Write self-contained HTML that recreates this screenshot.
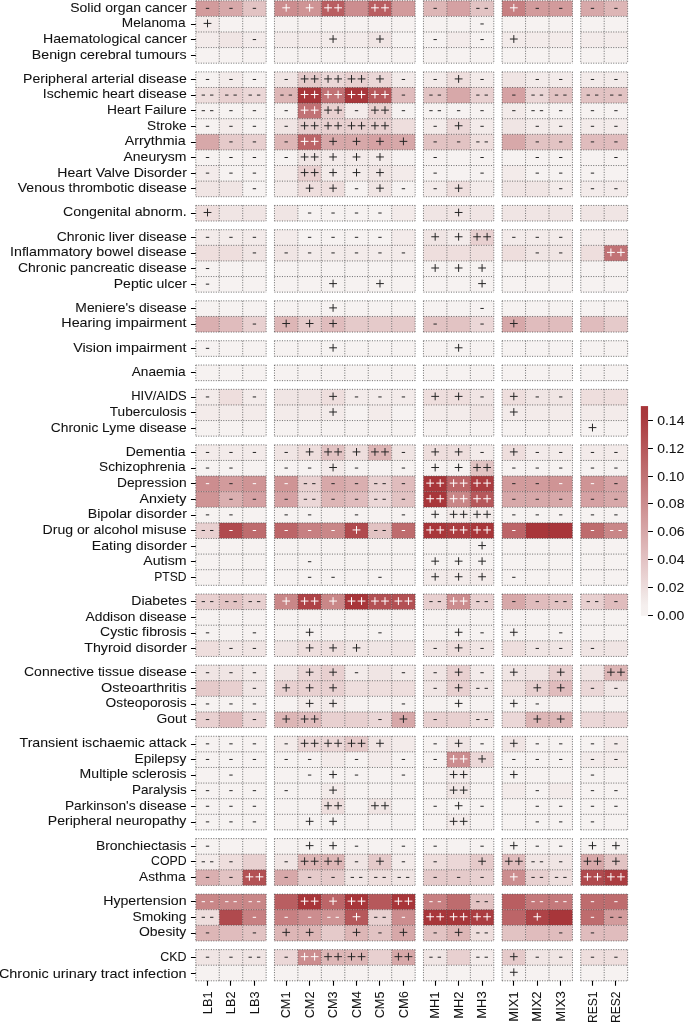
<!DOCTYPE html>
<html><head><meta charset="utf-8"><title>Heatmap</title>
<style>html,body{margin:0;padding:0;background:#fff;}body{width:685px;height:1023px;overflow:hidden;font-family:"Liberation Sans",sans-serif;}svg{display:block;will-change:transform;}</style>
</head><body>
<svg width="685" height="1023" viewBox="0 0 685 1023">
<rect width="685" height="1023" fill="#fff"/>
<g><rect x="195.80" y="0.75" width="23.45" height="15.61" fill="#d29b9c"/><rect x="219.25" y="0.75" width="23.45" height="15.61" fill="#d7a8a9"/><rect x="242.70" y="0.75" width="23.45" height="15.61" fill="#e2c3c3"/><rect x="274.45" y="0.75" width="23.45" height="15.61" fill="#cc8d8f"/><rect x="297.90" y="0.75" width="23.45" height="15.61" fill="#cf9495"/><rect x="321.35" y="0.75" width="23.45" height="15.61" fill="#b95e61"/><rect x="344.80" y="0.75" width="23.45" height="15.61" fill="#cc8d8f"/><rect x="368.25" y="0.75" width="23.45" height="15.61" fill="#b95e61"/><rect x="391.70" y="0.75" width="23.45" height="15.61" fill="#d29b9c"/><rect x="423.45" y="0.75" width="23.45" height="15.61" fill="#ddb6b6"/><rect x="446.90" y="0.75" width="23.45" height="15.61" fill="#d5a1a3"/><rect x="470.35" y="0.75" width="23.45" height="15.61" fill="#e2c3c3"/><rect x="502.10" y="0.75" width="23.45" height="15.61" fill="#c78082"/><rect x="525.55" y="0.75" width="23.45" height="15.61" fill="#d29b9c"/><rect x="549.00" y="0.75" width="23.45" height="15.61" fill="#d29b9c"/><rect x="580.75" y="0.75" width="23.45" height="15.61" fill="#d7a8a9"/><rect x="604.20" y="0.75" width="23.45" height="15.61" fill="#ddb6b6"/><rect x="195.80" y="16.36" width="23.45" height="15.61" fill="#f3ebea"/><rect x="219.25" y="16.36" width="23.45" height="15.61" fill="#f6f2f1"/><rect x="242.70" y="16.36" width="23.45" height="15.61" fill="#f6f2f1"/><rect x="274.45" y="16.36" width="23.45" height="15.61" fill="#f6f2f1"/><rect x="297.90" y="16.36" width="23.45" height="15.61" fill="#f6f2f1"/><rect x="321.35" y="16.36" width="23.45" height="15.61" fill="#f6f2f1"/><rect x="344.80" y="16.36" width="23.45" height="15.61" fill="#f6f2f1"/><rect x="368.25" y="16.36" width="23.45" height="15.61" fill="#f6f2f1"/><rect x="391.70" y="16.36" width="23.45" height="15.61" fill="#f6f2f1"/><rect x="423.45" y="16.36" width="23.45" height="15.61" fill="#f6f2f1"/><rect x="446.90" y="16.36" width="23.45" height="15.61" fill="#f6f2f1"/><rect x="470.35" y="16.36" width="23.45" height="15.61" fill="#f6f2f1"/><rect x="502.10" y="16.36" width="23.45" height="15.61" fill="#f6f2f1"/><rect x="525.55" y="16.36" width="23.45" height="15.61" fill="#f6f2f1"/><rect x="549.00" y="16.36" width="23.45" height="15.61" fill="#f6f2f1"/><rect x="580.75" y="16.36" width="23.45" height="15.61" fill="#f6f2f1"/><rect x="604.20" y="16.36" width="23.45" height="15.61" fill="#f6f2f1"/><rect x="195.80" y="31.97" width="23.45" height="15.61" fill="#f3ebea"/><rect x="219.25" y="31.97" width="23.45" height="15.61" fill="#f0e5e4"/><rect x="242.70" y="31.97" width="23.45" height="15.61" fill="#f3ebea"/><rect x="274.45" y="31.97" width="23.45" height="15.61" fill="#f3ebea"/><rect x="297.90" y="31.97" width="23.45" height="15.61" fill="#f3ebea"/><rect x="321.35" y="31.97" width="23.45" height="15.61" fill="#f3ebea"/><rect x="344.80" y="31.97" width="23.45" height="15.61" fill="#f3ebea"/><rect x="368.25" y="31.97" width="23.45" height="15.61" fill="#f0e5e4"/><rect x="391.70" y="31.97" width="23.45" height="15.61" fill="#f6f2f1"/><rect x="423.45" y="31.97" width="23.45" height="15.61" fill="#f6f2f1"/><rect x="446.90" y="31.97" width="23.45" height="15.61" fill="#f3ebea"/><rect x="470.35" y="31.97" width="23.45" height="15.61" fill="#f6f2f1"/><rect x="502.10" y="31.97" width="23.45" height="15.61" fill="#f3ebea"/><rect x="525.55" y="31.97" width="23.45" height="15.61" fill="#f3ebea"/><rect x="549.00" y="31.97" width="23.45" height="15.61" fill="#f3ebea"/><rect x="580.75" y="31.97" width="23.45" height="15.61" fill="#f3ebea"/><rect x="604.20" y="31.97" width="23.45" height="15.61" fill="#f3ebea"/><rect x="195.80" y="47.57" width="23.45" height="15.61" fill="#f6f2f1"/><rect x="219.25" y="47.57" width="23.45" height="15.61" fill="#f6f2f1"/><rect x="242.70" y="47.57" width="23.45" height="15.61" fill="#f6f2f1"/><rect x="274.45" y="47.57" width="23.45" height="15.61" fill="#f6f2f1"/><rect x="297.90" y="47.57" width="23.45" height="15.61" fill="#f6f2f1"/><rect x="321.35" y="47.57" width="23.45" height="15.61" fill="#f6f2f1"/><rect x="344.80" y="47.57" width="23.45" height="15.61" fill="#f6f2f1"/><rect x="368.25" y="47.57" width="23.45" height="15.61" fill="#f6f2f1"/><rect x="391.70" y="47.57" width="23.45" height="15.61" fill="#f6f2f1"/><rect x="423.45" y="47.57" width="23.45" height="15.61" fill="#f6f2f1"/><rect x="446.90" y="47.57" width="23.45" height="15.61" fill="#f6f2f1"/><rect x="470.35" y="47.57" width="23.45" height="15.61" fill="#f6f2f1"/><rect x="502.10" y="47.57" width="23.45" height="15.61" fill="#f6f2f1"/><rect x="525.55" y="47.57" width="23.45" height="15.61" fill="#f6f2f1"/><rect x="549.00" y="47.57" width="23.45" height="15.61" fill="#f6f2f1"/><rect x="580.75" y="47.57" width="23.45" height="15.61" fill="#f6f2f1"/><rect x="604.20" y="47.57" width="23.45" height="15.61" fill="#f6f2f1"/><rect x="195.80" y="71.87" width="23.45" height="15.61" fill="#f6f2f1"/><rect x="219.25" y="71.87" width="23.45" height="15.61" fill="#f3ebea"/><rect x="242.70" y="71.87" width="23.45" height="15.61" fill="#f6f2f1"/><rect x="274.45" y="71.87" width="23.45" height="15.61" fill="#f0e5e4"/><rect x="297.90" y="71.87" width="23.45" height="15.61" fill="#e5caca"/><rect x="321.35" y="71.87" width="23.45" height="15.61" fill="#ebd7d7"/><rect x="344.80" y="71.87" width="23.45" height="15.61" fill="#e8d0d0"/><rect x="368.25" y="71.87" width="23.45" height="15.61" fill="#ebd7d7"/><rect x="391.70" y="71.87" width="23.45" height="15.61" fill="#f3ebea"/><rect x="423.45" y="71.87" width="23.45" height="15.61" fill="#f3ebea"/><rect x="446.90" y="71.87" width="23.45" height="15.61" fill="#eededd"/><rect x="470.35" y="71.87" width="23.45" height="15.61" fill="#f3ebea"/><rect x="502.10" y="71.87" width="23.45" height="15.61" fill="#f0e5e4"/><rect x="525.55" y="71.87" width="23.45" height="15.61" fill="#f3ebea"/><rect x="549.00" y="71.87" width="23.45" height="15.61" fill="#f3ebea"/><rect x="580.75" y="71.87" width="23.45" height="15.61" fill="#f3ebea"/><rect x="604.20" y="71.87" width="23.45" height="15.61" fill="#f3ebea"/><rect x="195.80" y="87.48" width="23.45" height="15.61" fill="#eededd"/><rect x="219.25" y="87.48" width="23.45" height="15.61" fill="#e8d0d0"/><rect x="242.70" y="87.48" width="23.45" height="15.61" fill="#ebd7d7"/><rect x="274.45" y="87.48" width="23.45" height="15.61" fill="#ddb6b6"/><rect x="297.90" y="87.48" width="23.45" height="15.61" fill="#a8363a"/><rect x="321.35" y="87.48" width="23.45" height="15.61" fill="#c17275"/><rect x="344.80" y="87.48" width="23.45" height="15.61" fill="#a8363a"/><rect x="368.25" y="87.48" width="23.45" height="15.61" fill="#b6585b"/><rect x="391.70" y="87.48" width="23.45" height="15.61" fill="#e0bcbd"/><rect x="423.45" y="87.48" width="23.45" height="15.61" fill="#e2c3c3"/><rect x="446.90" y="87.48" width="23.45" height="15.61" fill="#d7a8a9"/><rect x="470.35" y="87.48" width="23.45" height="15.61" fill="#e8d0d0"/><rect x="502.10" y="87.48" width="23.45" height="15.61" fill="#d5a1a3"/><rect x="525.55" y="87.48" width="23.45" height="15.61" fill="#ebd7d7"/><rect x="549.00" y="87.48" width="23.45" height="15.61" fill="#e2c3c3"/><rect x="580.75" y="87.48" width="23.45" height="15.61" fill="#e2c3c3"/><rect x="604.20" y="87.48" width="23.45" height="15.61" fill="#e2c3c3"/><rect x="195.80" y="103.09" width="23.45" height="15.61" fill="#f6f2f1"/><rect x="219.25" y="103.09" width="23.45" height="15.61" fill="#f6f2f1"/><rect x="242.70" y="103.09" width="23.45" height="15.61" fill="#f6f2f1"/><rect x="274.45" y="103.09" width="23.45" height="15.61" fill="#f6f2f1"/><rect x="297.90" y="103.09" width="23.45" height="15.61" fill="#c17275"/><rect x="321.35" y="103.09" width="23.45" height="15.61" fill="#e8d0d0"/><rect x="344.80" y="103.09" width="23.45" height="15.61" fill="#f3ebea"/><rect x="368.25" y="103.09" width="23.45" height="15.61" fill="#e8d0d0"/><rect x="391.70" y="103.09" width="23.45" height="15.61" fill="#f6f2f1"/><rect x="423.45" y="103.09" width="23.45" height="15.61" fill="#f6f2f1"/><rect x="446.90" y="103.09" width="23.45" height="15.61" fill="#f6f2f1"/><rect x="470.35" y="103.09" width="23.45" height="15.61" fill="#f6f2f1"/><rect x="502.10" y="103.09" width="23.45" height="15.61" fill="#f3ebea"/><rect x="525.55" y="103.09" width="23.45" height="15.61" fill="#f6f2f1"/><rect x="549.00" y="103.09" width="23.45" height="15.61" fill="#f6f2f1"/><rect x="580.75" y="103.09" width="23.45" height="15.61" fill="#f6f2f1"/><rect x="604.20" y="103.09" width="23.45" height="15.61" fill="#f6f2f1"/><rect x="195.80" y="118.69" width="23.45" height="15.61" fill="#f6f2f1"/><rect x="219.25" y="118.69" width="23.45" height="15.61" fill="#f3ebea"/><rect x="242.70" y="118.69" width="23.45" height="15.61" fill="#f6f2f1"/><rect x="274.45" y="118.69" width="23.45" height="15.61" fill="#f0e5e4"/><rect x="297.90" y="118.69" width="23.45" height="15.61" fill="#e8d0d0"/><rect x="321.35" y="118.69" width="23.45" height="15.61" fill="#e8d0d0"/><rect x="344.80" y="118.69" width="23.45" height="15.61" fill="#e8d0d0"/><rect x="368.25" y="118.69" width="23.45" height="15.61" fill="#e8d0d0"/><rect x="391.70" y="118.69" width="23.45" height="15.61" fill="#eededd"/><rect x="423.45" y="118.69" width="23.45" height="15.61" fill="#f3ebea"/><rect x="446.90" y="118.69" width="23.45" height="15.61" fill="#ebd7d7"/><rect x="470.35" y="118.69" width="23.45" height="15.61" fill="#f3ebea"/><rect x="502.10" y="118.69" width="23.45" height="15.61" fill="#f0e5e4"/><rect x="525.55" y="118.69" width="23.45" height="15.61" fill="#f3ebea"/><rect x="549.00" y="118.69" width="23.45" height="15.61" fill="#f3ebea"/><rect x="580.75" y="118.69" width="23.45" height="15.61" fill="#f3ebea"/><rect x="604.20" y="118.69" width="23.45" height="15.61" fill="#f3ebea"/><rect x="195.80" y="134.30" width="23.45" height="15.61" fill="#d7a8a9"/><rect x="219.25" y="134.30" width="23.45" height="15.61" fill="#e5caca"/><rect x="242.70" y="134.30" width="23.45" height="15.61" fill="#e8d0d0"/><rect x="274.45" y="134.30" width="23.45" height="15.61" fill="#ddb6b6"/><rect x="297.90" y="134.30" width="23.45" height="15.61" fill="#bc6568"/><rect x="321.35" y="134.30" width="23.45" height="15.61" fill="#d7a8a9"/><rect x="344.80" y="134.30" width="23.45" height="15.61" fill="#d7a8a9"/><rect x="368.25" y="134.30" width="23.45" height="15.61" fill="#d5a1a3"/><rect x="391.70" y="134.30" width="23.45" height="15.61" fill="#d7a8a9"/><rect x="423.45" y="134.30" width="23.45" height="15.61" fill="#e2c3c3"/><rect x="446.90" y="134.30" width="23.45" height="15.61" fill="#e2c3c3"/><rect x="470.35" y="134.30" width="23.45" height="15.61" fill="#eededd"/><rect x="502.10" y="134.30" width="23.45" height="15.61" fill="#d7a8a9"/><rect x="525.55" y="134.30" width="23.45" height="15.61" fill="#e2c3c3"/><rect x="549.00" y="134.30" width="23.45" height="15.61" fill="#e2c3c3"/><rect x="580.75" y="134.30" width="23.45" height="15.61" fill="#e0bcbd"/><rect x="604.20" y="134.30" width="23.45" height="15.61" fill="#e0bcbd"/><rect x="195.80" y="149.91" width="23.45" height="15.61" fill="#f6f2f1"/><rect x="219.25" y="149.91" width="23.45" height="15.61" fill="#f6f2f1"/><rect x="242.70" y="149.91" width="23.45" height="15.61" fill="#f6f2f1"/><rect x="274.45" y="149.91" width="23.45" height="15.61" fill="#f6f2f1"/><rect x="297.90" y="149.91" width="23.45" height="15.61" fill="#f0e5e4"/><rect x="321.35" y="149.91" width="23.45" height="15.61" fill="#f3ebea"/><rect x="344.80" y="149.91" width="23.45" height="15.61" fill="#f3ebea"/><rect x="368.25" y="149.91" width="23.45" height="15.61" fill="#f3ebea"/><rect x="391.70" y="149.91" width="23.45" height="15.61" fill="#f6f2f1"/><rect x="423.45" y="149.91" width="23.45" height="15.61" fill="#f6f2f1"/><rect x="446.90" y="149.91" width="23.45" height="15.61" fill="#f6f2f1"/><rect x="470.35" y="149.91" width="23.45" height="15.61" fill="#f6f2f1"/><rect x="502.10" y="149.91" width="23.45" height="15.61" fill="#f6f2f1"/><rect x="525.55" y="149.91" width="23.45" height="15.61" fill="#f6f2f1"/><rect x="549.00" y="149.91" width="23.45" height="15.61" fill="#f6f2f1"/><rect x="580.75" y="149.91" width="23.45" height="15.61" fill="#f6f2f1"/><rect x="604.20" y="149.91" width="23.45" height="15.61" fill="#f6f2f1"/><rect x="195.80" y="165.52" width="23.45" height="15.61" fill="#f3ebea"/><rect x="219.25" y="165.52" width="23.45" height="15.61" fill="#f6f2f1"/><rect x="242.70" y="165.52" width="23.45" height="15.61" fill="#f6f2f1"/><rect x="274.45" y="165.52" width="23.45" height="15.61" fill="#f3ebea"/><rect x="297.90" y="165.52" width="23.45" height="15.61" fill="#e8d0d0"/><rect x="321.35" y="165.52" width="23.45" height="15.61" fill="#f3ebea"/><rect x="344.80" y="165.52" width="23.45" height="15.61" fill="#f3ebea"/><rect x="368.25" y="165.52" width="23.45" height="15.61" fill="#f0e5e4"/><rect x="391.70" y="165.52" width="23.45" height="15.61" fill="#f3ebea"/><rect x="423.45" y="165.52" width="23.45" height="15.61" fill="#f6f2f1"/><rect x="446.90" y="165.52" width="23.45" height="15.61" fill="#f6f2f1"/><rect x="470.35" y="165.52" width="23.45" height="15.61" fill="#f6f2f1"/><rect x="502.10" y="165.52" width="23.45" height="15.61" fill="#f3ebea"/><rect x="525.55" y="165.52" width="23.45" height="15.61" fill="#f6f2f1"/><rect x="549.00" y="165.52" width="23.45" height="15.61" fill="#f6f2f1"/><rect x="580.75" y="165.52" width="23.45" height="15.61" fill="#f6f2f1"/><rect x="604.20" y="165.52" width="23.45" height="15.61" fill="#f6f2f1"/><rect x="195.80" y="181.13" width="23.45" height="15.61" fill="#f0e5e4"/><rect x="219.25" y="181.13" width="23.45" height="15.61" fill="#f0e5e4"/><rect x="242.70" y="181.13" width="23.45" height="15.61" fill="#f6f2f1"/><rect x="274.45" y="181.13" width="23.45" height="15.61" fill="#f3ebea"/><rect x="297.90" y="181.13" width="23.45" height="15.61" fill="#eededd"/><rect x="321.35" y="181.13" width="23.45" height="15.61" fill="#eededd"/><rect x="344.80" y="181.13" width="23.45" height="15.61" fill="#f6f2f1"/><rect x="368.25" y="181.13" width="23.45" height="15.61" fill="#f0e5e4"/><rect x="391.70" y="181.13" width="23.45" height="15.61" fill="#f6f2f1"/><rect x="423.45" y="181.13" width="23.45" height="15.61" fill="#f3ebea"/><rect x="446.90" y="181.13" width="23.45" height="15.61" fill="#eededd"/><rect x="470.35" y="181.13" width="23.45" height="15.61" fill="#f3ebea"/><rect x="502.10" y="181.13" width="23.45" height="15.61" fill="#f0e5e4"/><rect x="525.55" y="181.13" width="23.45" height="15.61" fill="#f0e5e4"/><rect x="549.00" y="181.13" width="23.45" height="15.61" fill="#f3ebea"/><rect x="580.75" y="181.13" width="23.45" height="15.61" fill="#f3ebea"/><rect x="604.20" y="181.13" width="23.45" height="15.61" fill="#f3ebea"/><rect x="195.80" y="205.42" width="23.45" height="15.61" fill="#eededd"/><rect x="219.25" y="205.42" width="23.45" height="15.61" fill="#f0e5e4"/><rect x="242.70" y="205.42" width="23.45" height="15.61" fill="#f0e5e4"/><rect x="274.45" y="205.42" width="23.45" height="15.61" fill="#f0e5e4"/><rect x="297.90" y="205.42" width="23.45" height="15.61" fill="#f6f2f1"/><rect x="321.35" y="205.42" width="23.45" height="15.61" fill="#f6f2f1"/><rect x="344.80" y="205.42" width="23.45" height="15.61" fill="#f6f2f1"/><rect x="368.25" y="205.42" width="23.45" height="15.61" fill="#f6f2f1"/><rect x="391.70" y="205.42" width="23.45" height="15.61" fill="#f3ebea"/><rect x="423.45" y="205.42" width="23.45" height="15.61" fill="#f0e5e4"/><rect x="446.90" y="205.42" width="23.45" height="15.61" fill="#f0e5e4"/><rect x="470.35" y="205.42" width="23.45" height="15.61" fill="#f0e5e4"/><rect x="502.10" y="205.42" width="23.45" height="15.61" fill="#f0e5e4"/><rect x="525.55" y="205.42" width="23.45" height="15.61" fill="#f0e5e4"/><rect x="549.00" y="205.42" width="23.45" height="15.61" fill="#f0e5e4"/><rect x="580.75" y="205.42" width="23.45" height="15.61" fill="#f0e5e4"/><rect x="604.20" y="205.42" width="23.45" height="15.61" fill="#f0e5e4"/><rect x="195.80" y="229.72" width="23.45" height="15.61" fill="#f3ebea"/><rect x="219.25" y="229.72" width="23.45" height="15.61" fill="#f3ebea"/><rect x="242.70" y="229.72" width="23.45" height="15.61" fill="#f3ebea"/><rect x="274.45" y="229.72" width="23.45" height="15.61" fill="#f3ebea"/><rect x="297.90" y="229.72" width="23.45" height="15.61" fill="#f6f2f1"/><rect x="321.35" y="229.72" width="23.45" height="15.61" fill="#f6f2f1"/><rect x="344.80" y="229.72" width="23.45" height="15.61" fill="#f6f2f1"/><rect x="368.25" y="229.72" width="23.45" height="15.61" fill="#f6f2f1"/><rect x="391.70" y="229.72" width="23.45" height="15.61" fill="#f3ebea"/><rect x="423.45" y="229.72" width="23.45" height="15.61" fill="#f0e5e4"/><rect x="446.90" y="229.72" width="23.45" height="15.61" fill="#f3ebea"/><rect x="470.35" y="229.72" width="23.45" height="15.61" fill="#e8d0d0"/><rect x="502.10" y="229.72" width="23.45" height="15.61" fill="#f3ebea"/><rect x="525.55" y="229.72" width="23.45" height="15.61" fill="#f3ebea"/><rect x="549.00" y="229.72" width="23.45" height="15.61" fill="#f3ebea"/><rect x="580.75" y="229.72" width="23.45" height="15.61" fill="#f3ebea"/><rect x="604.20" y="229.72" width="23.45" height="15.61" fill="#f3ebea"/><rect x="195.80" y="245.33" width="23.45" height="15.61" fill="#eededd"/><rect x="219.25" y="245.33" width="23.45" height="15.61" fill="#eededd"/><rect x="242.70" y="245.33" width="23.45" height="15.61" fill="#f0e5e4"/><rect x="274.45" y="245.33" width="23.45" height="15.61" fill="#f0e5e4"/><rect x="297.90" y="245.33" width="23.45" height="15.61" fill="#f3ebea"/><rect x="321.35" y="245.33" width="23.45" height="15.61" fill="#f3ebea"/><rect x="344.80" y="245.33" width="23.45" height="15.61" fill="#f3ebea"/><rect x="368.25" y="245.33" width="23.45" height="15.61" fill="#f3ebea"/><rect x="391.70" y="245.33" width="23.45" height="15.61" fill="#f3ebea"/><rect x="423.45" y="245.33" width="23.45" height="15.61" fill="#eededd"/><rect x="446.90" y="245.33" width="23.45" height="15.61" fill="#eededd"/><rect x="470.35" y="245.33" width="23.45" height="15.61" fill="#eededd"/><rect x="502.10" y="245.33" width="23.45" height="15.61" fill="#eededd"/><rect x="525.55" y="245.33" width="23.45" height="15.61" fill="#f0e5e4"/><rect x="549.00" y="245.33" width="23.45" height="15.61" fill="#f0e5e4"/><rect x="580.75" y="245.33" width="23.45" height="15.61" fill="#eededd"/><rect x="604.20" y="245.33" width="23.45" height="15.61" fill="#c17275"/><rect x="195.80" y="260.93" width="23.45" height="15.61" fill="#f6f2f1"/><rect x="219.25" y="260.93" width="23.45" height="15.61" fill="#f6f2f1"/><rect x="242.70" y="260.93" width="23.45" height="15.61" fill="#f6f2f1"/><rect x="274.45" y="260.93" width="23.45" height="15.61" fill="#f6f2f1"/><rect x="297.90" y="260.93" width="23.45" height="15.61" fill="#f6f2f1"/><rect x="321.35" y="260.93" width="23.45" height="15.61" fill="#f6f2f1"/><rect x="344.80" y="260.93" width="23.45" height="15.61" fill="#f6f2f1"/><rect x="368.25" y="260.93" width="23.45" height="15.61" fill="#f6f2f1"/><rect x="391.70" y="260.93" width="23.45" height="15.61" fill="#f6f2f1"/><rect x="423.45" y="260.93" width="23.45" height="15.61" fill="#f6f2f1"/><rect x="446.90" y="260.93" width="23.45" height="15.61" fill="#f6f2f1"/><rect x="470.35" y="260.93" width="23.45" height="15.61" fill="#f6f2f1"/><rect x="502.10" y="260.93" width="23.45" height="15.61" fill="#f6f2f1"/><rect x="525.55" y="260.93" width="23.45" height="15.61" fill="#f6f2f1"/><rect x="549.00" y="260.93" width="23.45" height="15.61" fill="#f6f2f1"/><rect x="580.75" y="260.93" width="23.45" height="15.61" fill="#f6f2f1"/><rect x="604.20" y="260.93" width="23.45" height="15.61" fill="#f6f2f1"/><rect x="195.80" y="276.54" width="23.45" height="15.61" fill="#f6f2f1"/><rect x="219.25" y="276.54" width="23.45" height="15.61" fill="#f6f2f1"/><rect x="242.70" y="276.54" width="23.45" height="15.61" fill="#f6f2f1"/><rect x="274.45" y="276.54" width="23.45" height="15.61" fill="#f6f2f1"/><rect x="297.90" y="276.54" width="23.45" height="15.61" fill="#f6f2f1"/><rect x="321.35" y="276.54" width="23.45" height="15.61" fill="#f6f2f1"/><rect x="344.80" y="276.54" width="23.45" height="15.61" fill="#f6f2f1"/><rect x="368.25" y="276.54" width="23.45" height="15.61" fill="#f6f2f1"/><rect x="391.70" y="276.54" width="23.45" height="15.61" fill="#f6f2f1"/><rect x="423.45" y="276.54" width="23.45" height="15.61" fill="#f6f2f1"/><rect x="446.90" y="276.54" width="23.45" height="15.61" fill="#f6f2f1"/><rect x="470.35" y="276.54" width="23.45" height="15.61" fill="#f6f2f1"/><rect x="502.10" y="276.54" width="23.45" height="15.61" fill="#f6f2f1"/><rect x="525.55" y="276.54" width="23.45" height="15.61" fill="#f6f2f1"/><rect x="549.00" y="276.54" width="23.45" height="15.61" fill="#f6f2f1"/><rect x="580.75" y="276.54" width="23.45" height="15.61" fill="#f6f2f1"/><rect x="604.20" y="276.54" width="23.45" height="15.61" fill="#f6f2f1"/><rect x="195.80" y="300.84" width="23.45" height="15.61" fill="#f6f2f1"/><rect x="219.25" y="300.84" width="23.45" height="15.61" fill="#f6f2f1"/><rect x="242.70" y="300.84" width="23.45" height="15.61" fill="#f6f2f1"/><rect x="274.45" y="300.84" width="23.45" height="15.61" fill="#f6f2f1"/><rect x="297.90" y="300.84" width="23.45" height="15.61" fill="#f6f2f1"/><rect x="321.35" y="300.84" width="23.45" height="15.61" fill="#f6f2f1"/><rect x="344.80" y="300.84" width="23.45" height="15.61" fill="#f6f2f1"/><rect x="368.25" y="300.84" width="23.45" height="15.61" fill="#f6f2f1"/><rect x="391.70" y="300.84" width="23.45" height="15.61" fill="#f6f2f1"/><rect x="423.45" y="300.84" width="23.45" height="15.61" fill="#f6f2f1"/><rect x="446.90" y="300.84" width="23.45" height="15.61" fill="#f6f2f1"/><rect x="470.35" y="300.84" width="23.45" height="15.61" fill="#f6f2f1"/><rect x="502.10" y="300.84" width="23.45" height="15.61" fill="#f6f2f1"/><rect x="525.55" y="300.84" width="23.45" height="15.61" fill="#f6f2f1"/><rect x="549.00" y="300.84" width="23.45" height="15.61" fill="#f6f2f1"/><rect x="580.75" y="300.84" width="23.45" height="15.61" fill="#f6f2f1"/><rect x="604.20" y="300.84" width="23.45" height="15.61" fill="#f6f2f1"/><rect x="195.80" y="316.45" width="23.45" height="15.61" fill="#daafb0"/><rect x="219.25" y="316.45" width="23.45" height="15.61" fill="#e0bcbd"/><rect x="242.70" y="316.45" width="23.45" height="15.61" fill="#e8d0d0"/><rect x="274.45" y="316.45" width="23.45" height="15.61" fill="#ddb6b6"/><rect x="297.90" y="316.45" width="23.45" height="15.61" fill="#e5caca"/><rect x="321.35" y="316.45" width="23.45" height="15.61" fill="#e0bcbd"/><rect x="344.80" y="316.45" width="23.45" height="15.61" fill="#e5caca"/><rect x="368.25" y="316.45" width="23.45" height="15.61" fill="#e5caca"/><rect x="391.70" y="316.45" width="23.45" height="15.61" fill="#e5caca"/><rect x="423.45" y="316.45" width="23.45" height="15.61" fill="#e2c3c3"/><rect x="446.90" y="316.45" width="23.45" height="15.61" fill="#e2c3c3"/><rect x="470.35" y="316.45" width="23.45" height="15.61" fill="#ebd7d7"/><rect x="502.10" y="316.45" width="23.45" height="15.61" fill="#d7a8a9"/><rect x="525.55" y="316.45" width="23.45" height="15.61" fill="#e0bcbd"/><rect x="549.00" y="316.45" width="23.45" height="15.61" fill="#e0bcbd"/><rect x="580.75" y="316.45" width="23.45" height="15.61" fill="#e0bcbd"/><rect x="604.20" y="316.45" width="23.45" height="15.61" fill="#e5caca"/><rect x="195.80" y="340.74" width="23.45" height="15.61" fill="#f6f2f1"/><rect x="219.25" y="340.74" width="23.45" height="15.61" fill="#f6f2f1"/><rect x="242.70" y="340.74" width="23.45" height="15.61" fill="#f6f2f1"/><rect x="274.45" y="340.74" width="23.45" height="15.61" fill="#f6f2f1"/><rect x="297.90" y="340.74" width="23.45" height="15.61" fill="#f6f2f1"/><rect x="321.35" y="340.74" width="23.45" height="15.61" fill="#f6f2f1"/><rect x="344.80" y="340.74" width="23.45" height="15.61" fill="#f6f2f1"/><rect x="368.25" y="340.74" width="23.45" height="15.61" fill="#f6f2f1"/><rect x="391.70" y="340.74" width="23.45" height="15.61" fill="#f6f2f1"/><rect x="423.45" y="340.74" width="23.45" height="15.61" fill="#f6f2f1"/><rect x="446.90" y="340.74" width="23.45" height="15.61" fill="#f6f2f1"/><rect x="470.35" y="340.74" width="23.45" height="15.61" fill="#f6f2f1"/><rect x="502.10" y="340.74" width="23.45" height="15.61" fill="#f6f2f1"/><rect x="525.55" y="340.74" width="23.45" height="15.61" fill="#f6f2f1"/><rect x="549.00" y="340.74" width="23.45" height="15.61" fill="#f6f2f1"/><rect x="580.75" y="340.74" width="23.45" height="15.61" fill="#f6f2f1"/><rect x="604.20" y="340.74" width="23.45" height="15.61" fill="#f6f2f1"/><rect x="195.80" y="365.04" width="23.45" height="15.61" fill="#f6f2f1"/><rect x="219.25" y="365.04" width="23.45" height="15.61" fill="#f6f2f1"/><rect x="242.70" y="365.04" width="23.45" height="15.61" fill="#f6f2f1"/><rect x="274.45" y="365.04" width="23.45" height="15.61" fill="#f6f2f1"/><rect x="297.90" y="365.04" width="23.45" height="15.61" fill="#f6f2f1"/><rect x="321.35" y="365.04" width="23.45" height="15.61" fill="#f6f2f1"/><rect x="344.80" y="365.04" width="23.45" height="15.61" fill="#f6f2f1"/><rect x="368.25" y="365.04" width="23.45" height="15.61" fill="#f6f2f1"/><rect x="391.70" y="365.04" width="23.45" height="15.61" fill="#f6f2f1"/><rect x="423.45" y="365.04" width="23.45" height="15.61" fill="#f6f2f1"/><rect x="446.90" y="365.04" width="23.45" height="15.61" fill="#f6f2f1"/><rect x="470.35" y="365.04" width="23.45" height="15.61" fill="#f6f2f1"/><rect x="502.10" y="365.04" width="23.45" height="15.61" fill="#f6f2f1"/><rect x="525.55" y="365.04" width="23.45" height="15.61" fill="#f6f2f1"/><rect x="549.00" y="365.04" width="23.45" height="15.61" fill="#f6f2f1"/><rect x="580.75" y="365.04" width="23.45" height="15.61" fill="#f6f2f1"/><rect x="604.20" y="365.04" width="23.45" height="15.61" fill="#f6f2f1"/><rect x="195.80" y="389.33" width="23.45" height="15.61" fill="#f3ebea"/><rect x="219.25" y="389.33" width="23.45" height="15.61" fill="#eededd"/><rect x="242.70" y="389.33" width="23.45" height="15.61" fill="#f3ebea"/><rect x="274.45" y="389.33" width="23.45" height="15.61" fill="#f0e5e4"/><rect x="297.90" y="389.33" width="23.45" height="15.61" fill="#f0e5e4"/><rect x="321.35" y="389.33" width="23.45" height="15.61" fill="#eededd"/><rect x="344.80" y="389.33" width="23.45" height="15.61" fill="#f3ebea"/><rect x="368.25" y="389.33" width="23.45" height="15.61" fill="#f3ebea"/><rect x="391.70" y="389.33" width="23.45" height="15.61" fill="#f3ebea"/><rect x="423.45" y="389.33" width="23.45" height="15.61" fill="#eededd"/><rect x="446.90" y="389.33" width="23.45" height="15.61" fill="#eededd"/><rect x="470.35" y="389.33" width="23.45" height="15.61" fill="#f0e5e4"/><rect x="502.10" y="389.33" width="23.45" height="15.61" fill="#eededd"/><rect x="525.55" y="389.33" width="23.45" height="15.61" fill="#f0e5e4"/><rect x="549.00" y="389.33" width="23.45" height="15.61" fill="#f0e5e4"/><rect x="580.75" y="389.33" width="23.45" height="15.61" fill="#eededd"/><rect x="604.20" y="389.33" width="23.45" height="15.61" fill="#eededd"/><rect x="195.80" y="404.94" width="23.45" height="15.61" fill="#f3ebea"/><rect x="219.25" y="404.94" width="23.45" height="15.61" fill="#f3ebea"/><rect x="242.70" y="404.94" width="23.45" height="15.61" fill="#f3ebea"/><rect x="274.45" y="404.94" width="23.45" height="15.61" fill="#f3ebea"/><rect x="297.90" y="404.94" width="23.45" height="15.61" fill="#f3ebea"/><rect x="321.35" y="404.94" width="23.45" height="15.61" fill="#f3ebea"/><rect x="344.80" y="404.94" width="23.45" height="15.61" fill="#f6f2f1"/><rect x="368.25" y="404.94" width="23.45" height="15.61" fill="#f3ebea"/><rect x="391.70" y="404.94" width="23.45" height="15.61" fill="#f6f2f1"/><rect x="423.45" y="404.94" width="23.45" height="15.61" fill="#f3ebea"/><rect x="446.90" y="404.94" width="23.45" height="15.61" fill="#f3ebea"/><rect x="470.35" y="404.94" width="23.45" height="15.61" fill="#f0e5e4"/><rect x="502.10" y="404.94" width="23.45" height="15.61" fill="#f3ebea"/><rect x="525.55" y="404.94" width="23.45" height="15.61" fill="#f3ebea"/><rect x="549.00" y="404.94" width="23.45" height="15.61" fill="#f3ebea"/><rect x="580.75" y="404.94" width="23.45" height="15.61" fill="#f3ebea"/><rect x="604.20" y="404.94" width="23.45" height="15.61" fill="#f3ebea"/><rect x="195.80" y="420.55" width="23.45" height="15.61" fill="#f6f2f1"/><rect x="219.25" y="420.55" width="23.45" height="15.61" fill="#f6f2f1"/><rect x="242.70" y="420.55" width="23.45" height="15.61" fill="#f6f2f1"/><rect x="274.45" y="420.55" width="23.45" height="15.61" fill="#f6f2f1"/><rect x="297.90" y="420.55" width="23.45" height="15.61" fill="#f6f2f1"/><rect x="321.35" y="420.55" width="23.45" height="15.61" fill="#f6f2f1"/><rect x="344.80" y="420.55" width="23.45" height="15.61" fill="#f6f2f1"/><rect x="368.25" y="420.55" width="23.45" height="15.61" fill="#f6f2f1"/><rect x="391.70" y="420.55" width="23.45" height="15.61" fill="#f6f2f1"/><rect x="423.45" y="420.55" width="23.45" height="15.61" fill="#f6f2f1"/><rect x="446.90" y="420.55" width="23.45" height="15.61" fill="#f6f2f1"/><rect x="470.35" y="420.55" width="23.45" height="15.61" fill="#f6f2f1"/><rect x="502.10" y="420.55" width="23.45" height="15.61" fill="#f6f2f1"/><rect x="525.55" y="420.55" width="23.45" height="15.61" fill="#f6f2f1"/><rect x="549.00" y="420.55" width="23.45" height="15.61" fill="#f6f2f1"/><rect x="580.75" y="420.55" width="23.45" height="15.61" fill="#f6f2f1"/><rect x="604.20" y="420.55" width="23.45" height="15.61" fill="#f6f2f1"/><rect x="195.80" y="444.85" width="23.45" height="15.61" fill="#f3ebea"/><rect x="219.25" y="444.85" width="23.45" height="15.61" fill="#f3ebea"/><rect x="242.70" y="444.85" width="23.45" height="15.61" fill="#f3ebea"/><rect x="274.45" y="444.85" width="23.45" height="15.61" fill="#f0e5e4"/><rect x="297.90" y="444.85" width="23.45" height="15.61" fill="#eededd"/><rect x="321.35" y="444.85" width="23.45" height="15.61" fill="#e2c3c3"/><rect x="344.80" y="444.85" width="23.45" height="15.61" fill="#eededd"/><rect x="368.25" y="444.85" width="23.45" height="15.61" fill="#ddb6b6"/><rect x="391.70" y="444.85" width="23.45" height="15.61" fill="#f0e5e4"/><rect x="423.45" y="444.85" width="23.45" height="15.61" fill="#eededd"/><rect x="446.90" y="444.85" width="23.45" height="15.61" fill="#eededd"/><rect x="470.35" y="444.85" width="23.45" height="15.61" fill="#f3ebea"/><rect x="502.10" y="444.85" width="23.45" height="15.61" fill="#eededd"/><rect x="525.55" y="444.85" width="23.45" height="15.61" fill="#f3ebea"/><rect x="549.00" y="444.85" width="23.45" height="15.61" fill="#f3ebea"/><rect x="580.75" y="444.85" width="23.45" height="15.61" fill="#f3ebea"/><rect x="604.20" y="444.85" width="23.45" height="15.61" fill="#f3ebea"/><rect x="195.80" y="460.45" width="23.45" height="15.61" fill="#f6f2f1"/><rect x="219.25" y="460.45" width="23.45" height="15.61" fill="#f6f2f1"/><rect x="242.70" y="460.45" width="23.45" height="15.61" fill="#f6f2f1"/><rect x="274.45" y="460.45" width="23.45" height="15.61" fill="#f6f2f1"/><rect x="297.90" y="460.45" width="23.45" height="15.61" fill="#f6f2f1"/><rect x="321.35" y="460.45" width="23.45" height="15.61" fill="#f3ebea"/><rect x="344.80" y="460.45" width="23.45" height="15.61" fill="#f6f2f1"/><rect x="368.25" y="460.45" width="23.45" height="15.61" fill="#f6f2f1"/><rect x="391.70" y="460.45" width="23.45" height="15.61" fill="#f6f2f1"/><rect x="423.45" y="460.45" width="23.45" height="15.61" fill="#f6f2f1"/><rect x="446.90" y="460.45" width="23.45" height="15.61" fill="#f6f2f1"/><rect x="470.35" y="460.45" width="23.45" height="15.61" fill="#e2c3c3"/><rect x="502.10" y="460.45" width="23.45" height="15.61" fill="#f6f2f1"/><rect x="525.55" y="460.45" width="23.45" height="15.61" fill="#f6f2f1"/><rect x="549.00" y="460.45" width="23.45" height="15.61" fill="#f6f2f1"/><rect x="580.75" y="460.45" width="23.45" height="15.61" fill="#f6f2f1"/><rect x="604.20" y="460.45" width="23.45" height="15.61" fill="#f6f2f1"/><rect x="195.80" y="476.06" width="23.45" height="15.61" fill="#cc8d8f"/><rect x="219.25" y="476.06" width="23.45" height="15.61" fill="#d29b9c"/><rect x="242.70" y="476.06" width="23.45" height="15.61" fill="#cf9495"/><rect x="274.45" y="476.06" width="23.45" height="15.61" fill="#cf9495"/><rect x="297.90" y="476.06" width="23.45" height="15.61" fill="#e8d0d0"/><rect x="321.35" y="476.06" width="23.45" height="15.61" fill="#d7a8a9"/><rect x="344.80" y="476.06" width="23.45" height="15.61" fill="#daafb0"/><rect x="368.25" y="476.06" width="23.45" height="15.61" fill="#e8d0d0"/><rect x="391.70" y="476.06" width="23.45" height="15.61" fill="#e0bcbd"/><rect x="423.45" y="476.06" width="23.45" height="15.61" fill="#a8363a"/><rect x="446.90" y="476.06" width="23.45" height="15.61" fill="#bc6568"/><rect x="470.35" y="476.06" width="23.45" height="15.61" fill="#ab3d41"/><rect x="502.10" y="476.06" width="23.45" height="15.61" fill="#d29b9c"/><rect x="525.55" y="476.06" width="23.45" height="15.61" fill="#d29b9c"/><rect x="549.00" y="476.06" width="23.45" height="15.61" fill="#cf9495"/><rect x="580.75" y="476.06" width="23.45" height="15.61" fill="#cf9495"/><rect x="604.20" y="476.06" width="23.45" height="15.61" fill="#d5a1a3"/><rect x="195.80" y="491.67" width="23.45" height="15.61" fill="#cf9495"/><rect x="219.25" y="491.67" width="23.45" height="15.61" fill="#daafb0"/><rect x="242.70" y="491.67" width="23.45" height="15.61" fill="#d5a1a3"/><rect x="274.45" y="491.67" width="23.45" height="15.61" fill="#d5a1a3"/><rect x="297.90" y="491.67" width="23.45" height="15.61" fill="#ebd7d7"/><rect x="321.35" y="491.67" width="23.45" height="15.61" fill="#ddb6b6"/><rect x="344.80" y="491.67" width="23.45" height="15.61" fill="#e0bcbd"/><rect x="368.25" y="491.67" width="23.45" height="15.61" fill="#ebd7d7"/><rect x="391.70" y="491.67" width="23.45" height="15.61" fill="#e2c3c3"/><rect x="423.45" y="491.67" width="23.45" height="15.61" fill="#a8363a"/><rect x="446.90" y="491.67" width="23.45" height="15.61" fill="#c98788"/><rect x="470.35" y="491.67" width="23.45" height="15.61" fill="#b6585b"/><rect x="502.10" y="491.67" width="23.45" height="15.61" fill="#d7a8a9"/><rect x="525.55" y="491.67" width="23.45" height="15.61" fill="#d7a8a9"/><rect x="549.00" y="491.67" width="23.45" height="15.61" fill="#d7a8a9"/><rect x="580.75" y="491.67" width="23.45" height="15.61" fill="#d5a1a3"/><rect x="604.20" y="491.67" width="23.45" height="15.61" fill="#d7a8a9"/><rect x="195.80" y="507.28" width="23.45" height="15.61" fill="#f6f2f1"/><rect x="219.25" y="507.28" width="23.45" height="15.61" fill="#f6f2f1"/><rect x="242.70" y="507.28" width="23.45" height="15.61" fill="#f6f2f1"/><rect x="274.45" y="507.28" width="23.45" height="15.61" fill="#f6f2f1"/><rect x="297.90" y="507.28" width="23.45" height="15.61" fill="#f6f2f1"/><rect x="321.35" y="507.28" width="23.45" height="15.61" fill="#f6f2f1"/><rect x="344.80" y="507.28" width="23.45" height="15.61" fill="#f6f2f1"/><rect x="368.25" y="507.28" width="23.45" height="15.61" fill="#f6f2f1"/><rect x="391.70" y="507.28" width="23.45" height="15.61" fill="#f6f2f1"/><rect x="423.45" y="507.28" width="23.45" height="15.61" fill="#f6f2f1"/><rect x="446.90" y="507.28" width="23.45" height="15.61" fill="#f3ebea"/><rect x="470.35" y="507.28" width="23.45" height="15.61" fill="#f3ebea"/><rect x="502.10" y="507.28" width="23.45" height="15.61" fill="#f6f2f1"/><rect x="525.55" y="507.28" width="23.45" height="15.61" fill="#f6f2f1"/><rect x="549.00" y="507.28" width="23.45" height="15.61" fill="#f6f2f1"/><rect x="580.75" y="507.28" width="23.45" height="15.61" fill="#f6f2f1"/><rect x="604.20" y="507.28" width="23.45" height="15.61" fill="#f6f2f1"/><rect x="195.80" y="522.89" width="23.45" height="15.61" fill="#e8d0d0"/><rect x="219.25" y="522.89" width="23.45" height="15.61" fill="#b04a4e"/><rect x="242.70" y="522.89" width="23.45" height="15.61" fill="#be6c6e"/><rect x="274.45" y="522.89" width="23.45" height="15.61" fill="#bc6568"/><rect x="297.90" y="522.89" width="23.45" height="15.61" fill="#c78082"/><rect x="321.35" y="522.89" width="23.45" height="15.61" fill="#c98788"/><rect x="344.80" y="522.89" width="23.45" height="15.61" fill="#b04a4e"/><rect x="368.25" y="522.89" width="23.45" height="15.61" fill="#e2c3c3"/><rect x="391.70" y="522.89" width="23.45" height="15.61" fill="#be6c6e"/><rect x="423.45" y="522.89" width="23.45" height="15.61" fill="#a8363a"/><rect x="446.90" y="522.89" width="23.45" height="15.61" fill="#ab3d41"/><rect x="470.35" y="522.89" width="23.45" height="15.61" fill="#a8363a"/><rect x="502.10" y="522.89" width="23.45" height="15.61" fill="#bc6568"/><rect x="525.55" y="522.89" width="23.45" height="15.61" fill="#a8363a"/><rect x="549.00" y="522.89" width="23.45" height="15.61" fill="#a8363a"/><rect x="580.75" y="522.89" width="23.45" height="15.61" fill="#be6c6e"/><rect x="604.20" y="522.89" width="23.45" height="15.61" fill="#c98788"/><rect x="195.80" y="538.49" width="23.45" height="15.61" fill="#f6f2f1"/><rect x="219.25" y="538.49" width="23.45" height="15.61" fill="#f6f2f1"/><rect x="242.70" y="538.49" width="23.45" height="15.61" fill="#f6f2f1"/><rect x="274.45" y="538.49" width="23.45" height="15.61" fill="#f6f2f1"/><rect x="297.90" y="538.49" width="23.45" height="15.61" fill="#f6f2f1"/><rect x="321.35" y="538.49" width="23.45" height="15.61" fill="#f6f2f1"/><rect x="344.80" y="538.49" width="23.45" height="15.61" fill="#f6f2f1"/><rect x="368.25" y="538.49" width="23.45" height="15.61" fill="#f6f2f1"/><rect x="391.70" y="538.49" width="23.45" height="15.61" fill="#f6f2f1"/><rect x="423.45" y="538.49" width="23.45" height="15.61" fill="#f6f2f1"/><rect x="446.90" y="538.49" width="23.45" height="15.61" fill="#f6f2f1"/><rect x="470.35" y="538.49" width="23.45" height="15.61" fill="#f6f2f1"/><rect x="502.10" y="538.49" width="23.45" height="15.61" fill="#f6f2f1"/><rect x="525.55" y="538.49" width="23.45" height="15.61" fill="#f6f2f1"/><rect x="549.00" y="538.49" width="23.45" height="15.61" fill="#f6f2f1"/><rect x="580.75" y="538.49" width="23.45" height="15.61" fill="#f6f2f1"/><rect x="604.20" y="538.49" width="23.45" height="15.61" fill="#f6f2f1"/><rect x="195.80" y="554.10" width="23.45" height="15.61" fill="#f6f2f1"/><rect x="219.25" y="554.10" width="23.45" height="15.61" fill="#f6f2f1"/><rect x="242.70" y="554.10" width="23.45" height="15.61" fill="#f6f2f1"/><rect x="274.45" y="554.10" width="23.45" height="15.61" fill="#f6f2f1"/><rect x="297.90" y="554.10" width="23.45" height="15.61" fill="#f6f2f1"/><rect x="321.35" y="554.10" width="23.45" height="15.61" fill="#f6f2f1"/><rect x="344.80" y="554.10" width="23.45" height="15.61" fill="#f6f2f1"/><rect x="368.25" y="554.10" width="23.45" height="15.61" fill="#f6f2f1"/><rect x="391.70" y="554.10" width="23.45" height="15.61" fill="#f6f2f1"/><rect x="423.45" y="554.10" width="23.45" height="15.61" fill="#f6f2f1"/><rect x="446.90" y="554.10" width="23.45" height="15.61" fill="#f6f2f1"/><rect x="470.35" y="554.10" width="23.45" height="15.61" fill="#f6f2f1"/><rect x="502.10" y="554.10" width="23.45" height="15.61" fill="#f6f2f1"/><rect x="525.55" y="554.10" width="23.45" height="15.61" fill="#f6f2f1"/><rect x="549.00" y="554.10" width="23.45" height="15.61" fill="#f6f2f1"/><rect x="580.75" y="554.10" width="23.45" height="15.61" fill="#f6f2f1"/><rect x="604.20" y="554.10" width="23.45" height="15.61" fill="#f6f2f1"/><rect x="195.80" y="569.71" width="23.45" height="15.61" fill="#f6f2f1"/><rect x="219.25" y="569.71" width="23.45" height="15.61" fill="#f6f2f1"/><rect x="242.70" y="569.71" width="23.45" height="15.61" fill="#f6f2f1"/><rect x="274.45" y="569.71" width="23.45" height="15.61" fill="#f6f2f1"/><rect x="297.90" y="569.71" width="23.45" height="15.61" fill="#f6f2f1"/><rect x="321.35" y="569.71" width="23.45" height="15.61" fill="#f6f2f1"/><rect x="344.80" y="569.71" width="23.45" height="15.61" fill="#f6f2f1"/><rect x="368.25" y="569.71" width="23.45" height="15.61" fill="#f6f2f1"/><rect x="391.70" y="569.71" width="23.45" height="15.61" fill="#f6f2f1"/><rect x="423.45" y="569.71" width="23.45" height="15.61" fill="#f3ebea"/><rect x="446.90" y="569.71" width="23.45" height="15.61" fill="#f3ebea"/><rect x="470.35" y="569.71" width="23.45" height="15.61" fill="#f3ebea"/><rect x="502.10" y="569.71" width="23.45" height="15.61" fill="#f6f2f1"/><rect x="525.55" y="569.71" width="23.45" height="15.61" fill="#f6f2f1"/><rect x="549.00" y="569.71" width="23.45" height="15.61" fill="#f6f2f1"/><rect x="580.75" y="569.71" width="23.45" height="15.61" fill="#f6f2f1"/><rect x="604.20" y="569.71" width="23.45" height="15.61" fill="#f6f2f1"/><rect x="195.80" y="594.01" width="23.45" height="15.61" fill="#e8d0d0"/><rect x="219.25" y="594.01" width="23.45" height="15.61" fill="#e2c3c3"/><rect x="242.70" y="594.01" width="23.45" height="15.61" fill="#e8d0d0"/><rect x="274.45" y="594.01" width="23.45" height="15.61" fill="#c98788"/><rect x="297.90" y="594.01" width="23.45" height="15.61" fill="#ae4347"/><rect x="321.35" y="594.01" width="23.45" height="15.61" fill="#c98788"/><rect x="344.80" y="594.01" width="23.45" height="15.61" fill="#a8363a"/><rect x="368.25" y="594.01" width="23.45" height="15.61" fill="#b35154"/><rect x="391.70" y="594.01" width="23.45" height="15.61" fill="#b35154"/><rect x="423.45" y="594.01" width="23.45" height="15.61" fill="#e8d0d0"/><rect x="446.90" y="594.01" width="23.45" height="15.61" fill="#cc8d8f"/><rect x="470.35" y="594.01" width="23.45" height="15.61" fill="#e8d0d0"/><rect x="502.10" y="594.01" width="23.45" height="15.61" fill="#d7a8a9"/><rect x="525.55" y="594.01" width="23.45" height="15.61" fill="#e0bcbd"/><rect x="549.00" y="594.01" width="23.45" height="15.61" fill="#e2c3c3"/><rect x="580.75" y="594.01" width="23.45" height="15.61" fill="#e8d0d0"/><rect x="604.20" y="594.01" width="23.45" height="15.61" fill="#e0bcbd"/><rect x="195.80" y="609.61" width="23.45" height="15.61" fill="#f6f2f1"/><rect x="219.25" y="609.61" width="23.45" height="15.61" fill="#f6f2f1"/><rect x="242.70" y="609.61" width="23.45" height="15.61" fill="#f6f2f1"/><rect x="274.45" y="609.61" width="23.45" height="15.61" fill="#f6f2f1"/><rect x="297.90" y="609.61" width="23.45" height="15.61" fill="#f6f2f1"/><rect x="321.35" y="609.61" width="23.45" height="15.61" fill="#f6f2f1"/><rect x="344.80" y="609.61" width="23.45" height="15.61" fill="#f6f2f1"/><rect x="368.25" y="609.61" width="23.45" height="15.61" fill="#f6f2f1"/><rect x="391.70" y="609.61" width="23.45" height="15.61" fill="#f6f2f1"/><rect x="423.45" y="609.61" width="23.45" height="15.61" fill="#f6f2f1"/><rect x="446.90" y="609.61" width="23.45" height="15.61" fill="#f6f2f1"/><rect x="470.35" y="609.61" width="23.45" height="15.61" fill="#f6f2f1"/><rect x="502.10" y="609.61" width="23.45" height="15.61" fill="#f6f2f1"/><rect x="525.55" y="609.61" width="23.45" height="15.61" fill="#f6f2f1"/><rect x="549.00" y="609.61" width="23.45" height="15.61" fill="#f6f2f1"/><rect x="580.75" y="609.61" width="23.45" height="15.61" fill="#f6f2f1"/><rect x="604.20" y="609.61" width="23.45" height="15.61" fill="#f6f2f1"/><rect x="195.80" y="625.22" width="23.45" height="15.61" fill="#f6f2f1"/><rect x="219.25" y="625.22" width="23.45" height="15.61" fill="#f6f2f1"/><rect x="242.70" y="625.22" width="23.45" height="15.61" fill="#f6f2f1"/><rect x="274.45" y="625.22" width="23.45" height="15.61" fill="#f6f2f1"/><rect x="297.90" y="625.22" width="23.45" height="15.61" fill="#f6f2f1"/><rect x="321.35" y="625.22" width="23.45" height="15.61" fill="#f6f2f1"/><rect x="344.80" y="625.22" width="23.45" height="15.61" fill="#f6f2f1"/><rect x="368.25" y="625.22" width="23.45" height="15.61" fill="#f6f2f1"/><rect x="391.70" y="625.22" width="23.45" height="15.61" fill="#f6f2f1"/><rect x="423.45" y="625.22" width="23.45" height="15.61" fill="#f6f2f1"/><rect x="446.90" y="625.22" width="23.45" height="15.61" fill="#f6f2f1"/><rect x="470.35" y="625.22" width="23.45" height="15.61" fill="#f6f2f1"/><rect x="502.10" y="625.22" width="23.45" height="15.61" fill="#f6f2f1"/><rect x="525.55" y="625.22" width="23.45" height="15.61" fill="#f6f2f1"/><rect x="549.00" y="625.22" width="23.45" height="15.61" fill="#f6f2f1"/><rect x="580.75" y="625.22" width="23.45" height="15.61" fill="#f6f2f1"/><rect x="604.20" y="625.22" width="23.45" height="15.61" fill="#f6f2f1"/><rect x="195.80" y="640.83" width="23.45" height="15.61" fill="#eededd"/><rect x="219.25" y="640.83" width="23.45" height="15.61" fill="#f0e5e4"/><rect x="242.70" y="640.83" width="23.45" height="15.61" fill="#f0e5e4"/><rect x="274.45" y="640.83" width="23.45" height="15.61" fill="#f0e5e4"/><rect x="297.90" y="640.83" width="23.45" height="15.61" fill="#eededd"/><rect x="321.35" y="640.83" width="23.45" height="15.61" fill="#eededd"/><rect x="344.80" y="640.83" width="23.45" height="15.61" fill="#f0e5e4"/><rect x="368.25" y="640.83" width="23.45" height="15.61" fill="#f0e5e4"/><rect x="391.70" y="640.83" width="23.45" height="15.61" fill="#f0e5e4"/><rect x="423.45" y="640.83" width="23.45" height="15.61" fill="#f0e5e4"/><rect x="446.90" y="640.83" width="23.45" height="15.61" fill="#eededd"/><rect x="470.35" y="640.83" width="23.45" height="15.61" fill="#f0e5e4"/><rect x="502.10" y="640.83" width="23.45" height="15.61" fill="#eededd"/><rect x="525.55" y="640.83" width="23.45" height="15.61" fill="#f0e5e4"/><rect x="549.00" y="640.83" width="23.45" height="15.61" fill="#f0e5e4"/><rect x="580.75" y="640.83" width="23.45" height="15.61" fill="#f0e5e4"/><rect x="604.20" y="640.83" width="23.45" height="15.61" fill="#f0e5e4"/><rect x="195.80" y="665.13" width="23.45" height="15.61" fill="#f0e5e4"/><rect x="219.25" y="665.13" width="23.45" height="15.61" fill="#f0e5e4"/><rect x="242.70" y="665.13" width="23.45" height="15.61" fill="#f3ebea"/><rect x="274.45" y="665.13" width="23.45" height="15.61" fill="#f0e5e4"/><rect x="297.90" y="665.13" width="23.45" height="15.61" fill="#ebd7d7"/><rect x="321.35" y="665.13" width="23.45" height="15.61" fill="#e8d0d0"/><rect x="344.80" y="665.13" width="23.45" height="15.61" fill="#f3ebea"/><rect x="368.25" y="665.13" width="23.45" height="15.61" fill="#f0e5e4"/><rect x="391.70" y="665.13" width="23.45" height="15.61" fill="#f3ebea"/><rect x="423.45" y="665.13" width="23.45" height="15.61" fill="#f0e5e4"/><rect x="446.90" y="665.13" width="23.45" height="15.61" fill="#e8d0d0"/><rect x="470.35" y="665.13" width="23.45" height="15.61" fill="#f3ebea"/><rect x="502.10" y="665.13" width="23.45" height="15.61" fill="#f0e5e4"/><rect x="525.55" y="665.13" width="23.45" height="15.61" fill="#f0e5e4"/><rect x="549.00" y="665.13" width="23.45" height="15.61" fill="#e8d0d0"/><rect x="580.75" y="665.13" width="23.45" height="15.61" fill="#f0e5e4"/><rect x="604.20" y="665.13" width="23.45" height="15.61" fill="#ddb6b6"/><rect x="195.80" y="680.73" width="23.45" height="15.61" fill="#e5caca"/><rect x="219.25" y="680.73" width="23.45" height="15.61" fill="#e8d0d0"/><rect x="242.70" y="680.73" width="23.45" height="15.61" fill="#f0e5e4"/><rect x="274.45" y="680.73" width="23.45" height="15.61" fill="#e8d0d0"/><rect x="297.90" y="680.73" width="23.45" height="15.61" fill="#e8d0d0"/><rect x="321.35" y="680.73" width="23.45" height="15.61" fill="#e8d0d0"/><rect x="344.80" y="680.73" width="23.45" height="15.61" fill="#eededd"/><rect x="368.25" y="680.73" width="23.45" height="15.61" fill="#eededd"/><rect x="391.70" y="680.73" width="23.45" height="15.61" fill="#eededd"/><rect x="423.45" y="680.73" width="23.45" height="15.61" fill="#f0e5e4"/><rect x="446.90" y="680.73" width="23.45" height="15.61" fill="#e8d0d0"/><rect x="470.35" y="680.73" width="23.45" height="15.61" fill="#f0e5e4"/><rect x="502.10" y="680.73" width="23.45" height="15.61" fill="#eededd"/><rect x="525.55" y="680.73" width="23.45" height="15.61" fill="#e8d0d0"/><rect x="549.00" y="680.73" width="23.45" height="15.61" fill="#e0bcbd"/><rect x="580.75" y="680.73" width="23.45" height="15.61" fill="#ebd7d7"/><rect x="604.20" y="680.73" width="23.45" height="15.61" fill="#f0e5e4"/><rect x="195.80" y="696.34" width="23.45" height="15.61" fill="#f6f2f1"/><rect x="219.25" y="696.34" width="23.45" height="15.61" fill="#f6f2f1"/><rect x="242.70" y="696.34" width="23.45" height="15.61" fill="#f6f2f1"/><rect x="274.45" y="696.34" width="23.45" height="15.61" fill="#f6f2f1"/><rect x="297.90" y="696.34" width="23.45" height="15.61" fill="#f3ebea"/><rect x="321.35" y="696.34" width="23.45" height="15.61" fill="#f3ebea"/><rect x="344.80" y="696.34" width="23.45" height="15.61" fill="#f6f2f1"/><rect x="368.25" y="696.34" width="23.45" height="15.61" fill="#f6f2f1"/><rect x="391.70" y="696.34" width="23.45" height="15.61" fill="#f6f2f1"/><rect x="423.45" y="696.34" width="23.45" height="15.61" fill="#f6f2f1"/><rect x="446.90" y="696.34" width="23.45" height="15.61" fill="#f6f2f1"/><rect x="470.35" y="696.34" width="23.45" height="15.61" fill="#f6f2f1"/><rect x="502.10" y="696.34" width="23.45" height="15.61" fill="#f6f2f1"/><rect x="525.55" y="696.34" width="23.45" height="15.61" fill="#f6f2f1"/><rect x="549.00" y="696.34" width="23.45" height="15.61" fill="#f6f2f1"/><rect x="580.75" y="696.34" width="23.45" height="15.61" fill="#f6f2f1"/><rect x="604.20" y="696.34" width="23.45" height="15.61" fill="#f6f2f1"/><rect x="195.80" y="711.95" width="23.45" height="15.61" fill="#e8d0d0"/><rect x="219.25" y="711.95" width="23.45" height="15.61" fill="#e0bcbd"/><rect x="242.70" y="711.95" width="23.45" height="15.61" fill="#ebd7d7"/><rect x="274.45" y="711.95" width="23.45" height="15.61" fill="#ddb6b6"/><rect x="297.90" y="711.95" width="23.45" height="15.61" fill="#e0bcbd"/><rect x="321.35" y="711.95" width="23.45" height="15.61" fill="#e8d0d0"/><rect x="344.80" y="711.95" width="23.45" height="15.61" fill="#e8d0d0"/><rect x="368.25" y="711.95" width="23.45" height="15.61" fill="#ebd7d7"/><rect x="391.70" y="711.95" width="23.45" height="15.61" fill="#d7a8a9"/><rect x="423.45" y="711.95" width="23.45" height="15.61" fill="#e8d0d0"/><rect x="446.90" y="711.95" width="23.45" height="15.61" fill="#e8d0d0"/><rect x="470.35" y="711.95" width="23.45" height="15.61" fill="#eededd"/><rect x="502.10" y="711.95" width="23.45" height="15.61" fill="#ebd7d7"/><rect x="525.55" y="711.95" width="23.45" height="15.61" fill="#ddb6b6"/><rect x="549.00" y="711.95" width="23.45" height="15.61" fill="#ddb6b6"/><rect x="580.75" y="711.95" width="23.45" height="15.61" fill="#ebd7d7"/><rect x="604.20" y="711.95" width="23.45" height="15.61" fill="#ebd7d7"/><rect x="195.80" y="736.25" width="23.45" height="15.61" fill="#f6f2f1"/><rect x="219.25" y="736.25" width="23.45" height="15.61" fill="#f6f2f1"/><rect x="242.70" y="736.25" width="23.45" height="15.61" fill="#f6f2f1"/><rect x="274.45" y="736.25" width="23.45" height="15.61" fill="#f3ebea"/><rect x="297.90" y="736.25" width="23.45" height="15.61" fill="#ebd7d7"/><rect x="321.35" y="736.25" width="23.45" height="15.61" fill="#ebd7d7"/><rect x="344.80" y="736.25" width="23.45" height="15.61" fill="#e5caca"/><rect x="368.25" y="736.25" width="23.45" height="15.61" fill="#f0e5e4"/><rect x="391.70" y="736.25" width="23.45" height="15.61" fill="#f3ebea"/><rect x="423.45" y="736.25" width="23.45" height="15.61" fill="#f6f2f1"/><rect x="446.90" y="736.25" width="23.45" height="15.61" fill="#f0e5e4"/><rect x="470.35" y="736.25" width="23.45" height="15.61" fill="#f6f2f1"/><rect x="502.10" y="736.25" width="23.45" height="15.61" fill="#f0e5e4"/><rect x="525.55" y="736.25" width="23.45" height="15.61" fill="#f6f2f1"/><rect x="549.00" y="736.25" width="23.45" height="15.61" fill="#f6f2f1"/><rect x="580.75" y="736.25" width="23.45" height="15.61" fill="#f6f2f1"/><rect x="604.20" y="736.25" width="23.45" height="15.61" fill="#f3ebea"/><rect x="195.80" y="751.85" width="23.45" height="15.61" fill="#f6f2f1"/><rect x="219.25" y="751.85" width="23.45" height="15.61" fill="#f6f2f1"/><rect x="242.70" y="751.85" width="23.45" height="15.61" fill="#f6f2f1"/><rect x="274.45" y="751.85" width="23.45" height="15.61" fill="#f6f2f1"/><rect x="297.90" y="751.85" width="23.45" height="15.61" fill="#f6f2f1"/><rect x="321.35" y="751.85" width="23.45" height="15.61" fill="#f3ebea"/><rect x="344.80" y="751.85" width="23.45" height="15.61" fill="#f6f2f1"/><rect x="368.25" y="751.85" width="23.45" height="15.61" fill="#f3ebea"/><rect x="391.70" y="751.85" width="23.45" height="15.61" fill="#f6f2f1"/><rect x="423.45" y="751.85" width="23.45" height="15.61" fill="#f6f2f1"/><rect x="446.90" y="751.85" width="23.45" height="15.61" fill="#cc8d8f"/><rect x="470.35" y="751.85" width="23.45" height="15.61" fill="#ebd7d7"/><rect x="502.10" y="751.85" width="23.45" height="15.61" fill="#f6f2f1"/><rect x="525.55" y="751.85" width="23.45" height="15.61" fill="#f6f2f1"/><rect x="549.00" y="751.85" width="23.45" height="15.61" fill="#f6f2f1"/><rect x="580.75" y="751.85" width="23.45" height="15.61" fill="#f3ebea"/><rect x="604.20" y="751.85" width="23.45" height="15.61" fill="#f3ebea"/><rect x="195.80" y="767.46" width="23.45" height="15.61" fill="#f6f2f1"/><rect x="219.25" y="767.46" width="23.45" height="15.61" fill="#f6f2f1"/><rect x="242.70" y="767.46" width="23.45" height="15.61" fill="#f6f2f1"/><rect x="274.45" y="767.46" width="23.45" height="15.61" fill="#f6f2f1"/><rect x="297.90" y="767.46" width="23.45" height="15.61" fill="#f6f2f1"/><rect x="321.35" y="767.46" width="23.45" height="15.61" fill="#f6f2f1"/><rect x="344.80" y="767.46" width="23.45" height="15.61" fill="#f6f2f1"/><rect x="368.25" y="767.46" width="23.45" height="15.61" fill="#f6f2f1"/><rect x="391.70" y="767.46" width="23.45" height="15.61" fill="#f6f2f1"/><rect x="423.45" y="767.46" width="23.45" height="15.61" fill="#f6f2f1"/><rect x="446.90" y="767.46" width="23.45" height="15.61" fill="#f3ebea"/><rect x="470.35" y="767.46" width="23.45" height="15.61" fill="#f6f2f1"/><rect x="502.10" y="767.46" width="23.45" height="15.61" fill="#f6f2f1"/><rect x="525.55" y="767.46" width="23.45" height="15.61" fill="#f6f2f1"/><rect x="549.00" y="767.46" width="23.45" height="15.61" fill="#f6f2f1"/><rect x="580.75" y="767.46" width="23.45" height="15.61" fill="#f6f2f1"/><rect x="604.20" y="767.46" width="23.45" height="15.61" fill="#f6f2f1"/><rect x="195.80" y="783.07" width="23.45" height="15.61" fill="#f6f2f1"/><rect x="219.25" y="783.07" width="23.45" height="15.61" fill="#f6f2f1"/><rect x="242.70" y="783.07" width="23.45" height="15.61" fill="#f6f2f1"/><rect x="274.45" y="783.07" width="23.45" height="15.61" fill="#f6f2f1"/><rect x="297.90" y="783.07" width="23.45" height="15.61" fill="#f6f2f1"/><rect x="321.35" y="783.07" width="23.45" height="15.61" fill="#f3ebea"/><rect x="344.80" y="783.07" width="23.45" height="15.61" fill="#f6f2f1"/><rect x="368.25" y="783.07" width="23.45" height="15.61" fill="#f6f2f1"/><rect x="391.70" y="783.07" width="23.45" height="15.61" fill="#f6f2f1"/><rect x="423.45" y="783.07" width="23.45" height="15.61" fill="#f6f2f1"/><rect x="446.90" y="783.07" width="23.45" height="15.61" fill="#f0e5e4"/><rect x="470.35" y="783.07" width="23.45" height="15.61" fill="#f6f2f1"/><rect x="502.10" y="783.07" width="23.45" height="15.61" fill="#f3ebea"/><rect x="525.55" y="783.07" width="23.45" height="15.61" fill="#f6f2f1"/><rect x="549.00" y="783.07" width="23.45" height="15.61" fill="#f3ebea"/><rect x="580.75" y="783.07" width="23.45" height="15.61" fill="#f6f2f1"/><rect x="604.20" y="783.07" width="23.45" height="15.61" fill="#f6f2f1"/><rect x="195.80" y="798.68" width="23.45" height="15.61" fill="#f6f2f1"/><rect x="219.25" y="798.68" width="23.45" height="15.61" fill="#f6f2f1"/><rect x="242.70" y="798.68" width="23.45" height="15.61" fill="#f6f2f1"/><rect x="274.45" y="798.68" width="23.45" height="15.61" fill="#f6f2f1"/><rect x="297.90" y="798.68" width="23.45" height="15.61" fill="#f6f2f1"/><rect x="321.35" y="798.68" width="23.45" height="15.61" fill="#eededd"/><rect x="344.80" y="798.68" width="23.45" height="15.61" fill="#f6f2f1"/><rect x="368.25" y="798.68" width="23.45" height="15.61" fill="#f0e5e4"/><rect x="391.70" y="798.68" width="23.45" height="15.61" fill="#f6f2f1"/><rect x="423.45" y="798.68" width="23.45" height="15.61" fill="#f6f2f1"/><rect x="446.90" y="798.68" width="23.45" height="15.61" fill="#f6f2f1"/><rect x="470.35" y="798.68" width="23.45" height="15.61" fill="#f6f2f1"/><rect x="502.10" y="798.68" width="23.45" height="15.61" fill="#f6f2f1"/><rect x="525.55" y="798.68" width="23.45" height="15.61" fill="#f6f2f1"/><rect x="549.00" y="798.68" width="23.45" height="15.61" fill="#f6f2f1"/><rect x="580.75" y="798.68" width="23.45" height="15.61" fill="#f6f2f1"/><rect x="604.20" y="798.68" width="23.45" height="15.61" fill="#f6f2f1"/><rect x="195.80" y="814.29" width="23.45" height="15.61" fill="#f6f2f1"/><rect x="219.25" y="814.29" width="23.45" height="15.61" fill="#f6f2f1"/><rect x="242.70" y="814.29" width="23.45" height="15.61" fill="#f6f2f1"/><rect x="274.45" y="814.29" width="23.45" height="15.61" fill="#f6f2f1"/><rect x="297.90" y="814.29" width="23.45" height="15.61" fill="#f6f2f1"/><rect x="321.35" y="814.29" width="23.45" height="15.61" fill="#f6f2f1"/><rect x="344.80" y="814.29" width="23.45" height="15.61" fill="#f6f2f1"/><rect x="368.25" y="814.29" width="23.45" height="15.61" fill="#f6f2f1"/><rect x="391.70" y="814.29" width="23.45" height="15.61" fill="#f6f2f1"/><rect x="423.45" y="814.29" width="23.45" height="15.61" fill="#f6f2f1"/><rect x="446.90" y="814.29" width="23.45" height="15.61" fill="#f3ebea"/><rect x="470.35" y="814.29" width="23.45" height="15.61" fill="#f6f2f1"/><rect x="502.10" y="814.29" width="23.45" height="15.61" fill="#f6f2f1"/><rect x="525.55" y="814.29" width="23.45" height="15.61" fill="#f6f2f1"/><rect x="549.00" y="814.29" width="23.45" height="15.61" fill="#f6f2f1"/><rect x="580.75" y="814.29" width="23.45" height="15.61" fill="#f6f2f1"/><rect x="604.20" y="814.29" width="23.45" height="15.61" fill="#f6f2f1"/><rect x="195.80" y="838.58" width="23.45" height="15.61" fill="#f6f2f1"/><rect x="219.25" y="838.58" width="23.45" height="15.61" fill="#f6f2f1"/><rect x="242.70" y="838.58" width="23.45" height="15.61" fill="#f6f2f1"/><rect x="274.45" y="838.58" width="23.45" height="15.61" fill="#f6f2f1"/><rect x="297.90" y="838.58" width="23.45" height="15.61" fill="#f6f2f1"/><rect x="321.35" y="838.58" width="23.45" height="15.61" fill="#f6f2f1"/><rect x="344.80" y="838.58" width="23.45" height="15.61" fill="#f6f2f1"/><rect x="368.25" y="838.58" width="23.45" height="15.61" fill="#f6f2f1"/><rect x="391.70" y="838.58" width="23.45" height="15.61" fill="#f6f2f1"/><rect x="423.45" y="838.58" width="23.45" height="15.61" fill="#f6f2f1"/><rect x="446.90" y="838.58" width="23.45" height="15.61" fill="#f6f2f1"/><rect x="470.35" y="838.58" width="23.45" height="15.61" fill="#f6f2f1"/><rect x="502.10" y="838.58" width="23.45" height="15.61" fill="#f6f2f1"/><rect x="525.55" y="838.58" width="23.45" height="15.61" fill="#f6f2f1"/><rect x="549.00" y="838.58" width="23.45" height="15.61" fill="#f6f2f1"/><rect x="580.75" y="838.58" width="23.45" height="15.61" fill="#f6f2f1"/><rect x="604.20" y="838.58" width="23.45" height="15.61" fill="#f6f2f1"/><rect x="195.80" y="854.19" width="23.45" height="15.61" fill="#f3ebea"/><rect x="219.25" y="854.19" width="23.45" height="15.61" fill="#eededd"/><rect x="242.70" y="854.19" width="23.45" height="15.61" fill="#e8d0d0"/><rect x="274.45" y="854.19" width="23.45" height="15.61" fill="#f0e5e4"/><rect x="297.90" y="854.19" width="23.45" height="15.61" fill="#ddb6b6"/><rect x="321.35" y="854.19" width="23.45" height="15.61" fill="#ddb6b6"/><rect x="344.80" y="854.19" width="23.45" height="15.61" fill="#f0e5e4"/><rect x="368.25" y="854.19" width="23.45" height="15.61" fill="#e5caca"/><rect x="391.70" y="854.19" width="23.45" height="15.61" fill="#f3ebea"/><rect x="423.45" y="854.19" width="23.45" height="15.61" fill="#eededd"/><rect x="446.90" y="854.19" width="23.45" height="15.61" fill="#ebd7d7"/><rect x="470.35" y="854.19" width="23.45" height="15.61" fill="#e5caca"/><rect x="502.10" y="854.19" width="23.45" height="15.61" fill="#e0bcbd"/><rect x="525.55" y="854.19" width="23.45" height="15.61" fill="#f0e5e4"/><rect x="549.00" y="854.19" width="23.45" height="15.61" fill="#f0e5e4"/><rect x="580.75" y="854.19" width="23.45" height="15.61" fill="#d7a8a9"/><rect x="604.20" y="854.19" width="23.45" height="15.61" fill="#e2c3c3"/><rect x="195.80" y="869.80" width="23.45" height="15.61" fill="#daafb0"/><rect x="219.25" y="869.80" width="23.45" height="15.61" fill="#e2c3c3"/><rect x="242.70" y="869.80" width="23.45" height="15.61" fill="#b35154"/><rect x="274.45" y="869.80" width="23.45" height="15.61" fill="#d7a8a9"/><rect x="297.90" y="869.80" width="23.45" height="15.61" fill="#e5caca"/><rect x="321.35" y="869.80" width="23.45" height="15.61" fill="#e5caca"/><rect x="344.80" y="869.80" width="23.45" height="15.61" fill="#f0e5e4"/><rect x="368.25" y="869.80" width="23.45" height="15.61" fill="#eededd"/><rect x="391.70" y="869.80" width="23.45" height="15.61" fill="#f0e5e4"/><rect x="423.45" y="869.80" width="23.45" height="15.61" fill="#e5caca"/><rect x="446.90" y="869.80" width="23.45" height="15.61" fill="#e5caca"/><rect x="470.35" y="869.80" width="23.45" height="15.61" fill="#e8d0d0"/><rect x="502.10" y="869.80" width="23.45" height="15.61" fill="#cc8d8f"/><rect x="525.55" y="869.80" width="23.45" height="15.61" fill="#e8d0d0"/><rect x="549.00" y="869.80" width="23.45" height="15.61" fill="#eededd"/><rect x="580.75" y="869.80" width="23.45" height="15.61" fill="#b04a4e"/><rect x="604.20" y="869.80" width="23.45" height="15.61" fill="#ab3d41"/><rect x="195.80" y="894.09" width="23.45" height="15.61" fill="#c98788"/><rect x="219.25" y="894.09" width="23.45" height="15.61" fill="#c98788"/><rect x="242.70" y="894.09" width="23.45" height="15.61" fill="#c98788"/><rect x="274.45" y="894.09" width="23.45" height="15.61" fill="#b95e61"/><rect x="297.90" y="894.09" width="23.45" height="15.61" fill="#a8363a"/><rect x="321.35" y="894.09" width="23.45" height="15.61" fill="#bc6568"/><rect x="344.80" y="894.09" width="23.45" height="15.61" fill="#a8363a"/><rect x="368.25" y="894.09" width="23.45" height="15.61" fill="#b6585b"/><rect x="391.70" y="894.09" width="23.45" height="15.61" fill="#a8363a"/><rect x="423.45" y="894.09" width="23.45" height="15.61" fill="#c78082"/><rect x="446.90" y="894.09" width="23.45" height="15.61" fill="#be6c6e"/><rect x="470.35" y="894.09" width="23.45" height="15.61" fill="#e2c3c3"/><rect x="502.10" y="894.09" width="23.45" height="15.61" fill="#b95e61"/><rect x="525.55" y="894.09" width="23.45" height="15.61" fill="#c4797b"/><rect x="549.00" y="894.09" width="23.45" height="15.61" fill="#c4797b"/><rect x="580.75" y="894.09" width="23.45" height="15.61" fill="#be6c6e"/><rect x="604.20" y="894.09" width="23.45" height="15.61" fill="#be6c6e"/><rect x="195.80" y="909.70" width="23.45" height="15.61" fill="#eededd"/><rect x="219.25" y="909.70" width="23.45" height="15.61" fill="#b04a4e"/><rect x="242.70" y="909.70" width="23.45" height="15.61" fill="#c78082"/><rect x="274.45" y="909.70" width="23.45" height="15.61" fill="#c78082"/><rect x="297.90" y="909.70" width="23.45" height="15.61" fill="#cc8d8f"/><rect x="321.35" y="909.70" width="23.45" height="15.61" fill="#cf9495"/><rect x="344.80" y="909.70" width="23.45" height="15.61" fill="#b6585b"/><rect x="368.25" y="909.70" width="23.45" height="15.61" fill="#e8d0d0"/><rect x="391.70" y="909.70" width="23.45" height="15.61" fill="#cc8d8f"/><rect x="423.45" y="909.70" width="23.45" height="15.61" fill="#a8363a"/><rect x="446.90" y="909.70" width="23.45" height="15.61" fill="#a8363a"/><rect x="470.35" y="909.70" width="23.45" height="15.61" fill="#ab3d41"/><rect x="502.10" y="909.70" width="23.45" height="15.61" fill="#bc6568"/><rect x="525.55" y="909.70" width="23.45" height="15.61" fill="#ae4347"/><rect x="549.00" y="909.70" width="23.45" height="15.61" fill="#a8363a"/><rect x="580.75" y="909.70" width="23.45" height="15.61" fill="#be6c6e"/><rect x="604.20" y="909.70" width="23.45" height="15.61" fill="#d29b9c"/><rect x="195.80" y="925.31" width="23.45" height="15.61" fill="#ddb6b6"/><rect x="219.25" y="925.31" width="23.45" height="15.61" fill="#e0bcbd"/><rect x="242.70" y="925.31" width="23.45" height="15.61" fill="#e2c3c3"/><rect x="274.45" y="925.31" width="23.45" height="15.61" fill="#ddb6b6"/><rect x="297.90" y="925.31" width="23.45" height="15.61" fill="#ddb6b6"/><rect x="321.35" y="925.31" width="23.45" height="15.61" fill="#e5caca"/><rect x="344.80" y="925.31" width="23.45" height="15.61" fill="#ddb6b6"/><rect x="368.25" y="925.31" width="23.45" height="15.61" fill="#e2c3c3"/><rect x="391.70" y="925.31" width="23.45" height="15.61" fill="#d7a8a9"/><rect x="423.45" y="925.31" width="23.45" height="15.61" fill="#e2c3c3"/><rect x="446.90" y="925.31" width="23.45" height="15.61" fill="#ddb6b6"/><rect x="470.35" y="925.31" width="23.45" height="15.61" fill="#eededd"/><rect x="502.10" y="925.31" width="23.45" height="15.61" fill="#e2c3c3"/><rect x="525.55" y="925.31" width="23.45" height="15.61" fill="#e0bcbd"/><rect x="549.00" y="925.31" width="23.45" height="15.61" fill="#e0bcbd"/><rect x="580.75" y="925.31" width="23.45" height="15.61" fill="#e0bcbd"/><rect x="604.20" y="925.31" width="23.45" height="15.61" fill="#e0bcbd"/><rect x="195.80" y="949.61" width="23.45" height="15.61" fill="#f0e5e4"/><rect x="219.25" y="949.61" width="23.45" height="15.61" fill="#f0e5e4"/><rect x="242.70" y="949.61" width="23.45" height="15.61" fill="#f0e5e4"/><rect x="274.45" y="949.61" width="23.45" height="15.61" fill="#ebd7d7"/><rect x="297.90" y="949.61" width="23.45" height="15.61" fill="#cc8d8f"/><rect x="321.35" y="949.61" width="23.45" height="15.61" fill="#ddb6b6"/><rect x="344.80" y="949.61" width="23.45" height="15.61" fill="#ddb6b6"/><rect x="368.25" y="949.61" width="23.45" height="15.61" fill="#e8d0d0"/><rect x="391.70" y="949.61" width="23.45" height="15.61" fill="#d7a8a9"/><rect x="423.45" y="949.61" width="23.45" height="15.61" fill="#f0e5e4"/><rect x="446.90" y="949.61" width="23.45" height="15.61" fill="#e8d0d0"/><rect x="470.35" y="949.61" width="23.45" height="15.61" fill="#f3ebea"/><rect x="502.10" y="949.61" width="23.45" height="15.61" fill="#e5caca"/><rect x="525.55" y="949.61" width="23.45" height="15.61" fill="#f0e5e4"/><rect x="549.00" y="949.61" width="23.45" height="15.61" fill="#f0e5e4"/><rect x="580.75" y="949.61" width="23.45" height="15.61" fill="#eededd"/><rect x="604.20" y="949.61" width="23.45" height="15.61" fill="#eededd"/><rect x="195.80" y="965.21" width="23.45" height="15.61" fill="#f6f2f1"/><rect x="219.25" y="965.21" width="23.45" height="15.61" fill="#f6f2f1"/><rect x="242.70" y="965.21" width="23.45" height="15.61" fill="#f6f2f1"/><rect x="274.45" y="965.21" width="23.45" height="15.61" fill="#f6f2f1"/><rect x="297.90" y="965.21" width="23.45" height="15.61" fill="#f6f2f1"/><rect x="321.35" y="965.21" width="23.45" height="15.61" fill="#f6f2f1"/><rect x="344.80" y="965.21" width="23.45" height="15.61" fill="#f6f2f1"/><rect x="368.25" y="965.21" width="23.45" height="15.61" fill="#f6f2f1"/><rect x="391.70" y="965.21" width="23.45" height="15.61" fill="#f6f2f1"/><rect x="423.45" y="965.21" width="23.45" height="15.61" fill="#f6f2f1"/><rect x="446.90" y="965.21" width="23.45" height="15.61" fill="#f6f2f1"/><rect x="470.35" y="965.21" width="23.45" height="15.61" fill="#f6f2f1"/><rect x="502.10" y="965.21" width="23.45" height="15.61" fill="#f6f2f1"/><rect x="525.55" y="965.21" width="23.45" height="15.61" fill="#f6f2f1"/><rect x="549.00" y="965.21" width="23.45" height="15.61" fill="#f6f2f1"/><rect x="580.75" y="965.21" width="23.45" height="15.61" fill="#f6f2f1"/><rect x="604.20" y="965.21" width="23.45" height="15.61" fill="#f6f2f1"/></g>
<path d="M195.80 0.75H266.15M195.80 16.36H266.15M195.80 31.97H266.15M195.80 47.57H266.15M195.80 63.18H266.15M195.80 0.75V63.18M219.25 0.75V63.18M242.70 0.75V63.18M266.15 0.75V63.18M274.45 0.75H415.15M274.45 16.36H415.15M274.45 31.97H415.15M274.45 47.57H415.15M274.45 63.18H415.15M274.45 0.75V63.18M297.90 0.75V63.18M321.35 0.75V63.18M344.80 0.75V63.18M368.25 0.75V63.18M391.70 0.75V63.18M415.15 0.75V63.18M423.45 0.75H493.80M423.45 16.36H493.80M423.45 31.97H493.80M423.45 47.57H493.80M423.45 63.18H493.80M423.45 0.75V63.18M446.90 0.75V63.18M470.35 0.75V63.18M493.80 0.75V63.18M502.10 0.75H572.45M502.10 16.36H572.45M502.10 31.97H572.45M502.10 47.57H572.45M502.10 63.18H572.45M502.10 0.75V63.18M525.55 0.75V63.18M549.00 0.75V63.18M572.45 0.75V63.18M580.75 0.75H627.65M580.75 16.36H627.65M580.75 31.97H627.65M580.75 47.57H627.65M580.75 63.18H627.65M580.75 0.75V63.18M604.20 0.75V63.18M627.65 0.75V63.18M195.80 71.87H266.15M195.80 87.48H266.15M195.80 103.09H266.15M195.80 118.69H266.15M195.80 134.30H266.15M195.80 149.91H266.15M195.80 165.52H266.15M195.80 181.13H266.15M195.80 196.73H266.15M195.80 71.87V196.73M219.25 71.87V196.73M242.70 71.87V196.73M266.15 71.87V196.73M274.45 71.87H415.15M274.45 87.48H415.15M274.45 103.09H415.15M274.45 118.69H415.15M274.45 134.30H415.15M274.45 149.91H415.15M274.45 165.52H415.15M274.45 181.13H415.15M274.45 196.73H415.15M274.45 71.87V196.73M297.90 71.87V196.73M321.35 71.87V196.73M344.80 71.87V196.73M368.25 71.87V196.73M391.70 71.87V196.73M415.15 71.87V196.73M423.45 71.87H493.80M423.45 87.48H493.80M423.45 103.09H493.80M423.45 118.69H493.80M423.45 134.30H493.80M423.45 149.91H493.80M423.45 165.52H493.80M423.45 181.13H493.80M423.45 196.73H493.80M423.45 71.87V196.73M446.90 71.87V196.73M470.35 71.87V196.73M493.80 71.87V196.73M502.10 71.87H572.45M502.10 87.48H572.45M502.10 103.09H572.45M502.10 118.69H572.45M502.10 134.30H572.45M502.10 149.91H572.45M502.10 165.52H572.45M502.10 181.13H572.45M502.10 196.73H572.45M502.10 71.87V196.73M525.55 71.87V196.73M549.00 71.87V196.73M572.45 71.87V196.73M580.75 71.87H627.65M580.75 87.48H627.65M580.75 103.09H627.65M580.75 118.69H627.65M580.75 134.30H627.65M580.75 149.91H627.65M580.75 165.52H627.65M580.75 181.13H627.65M580.75 196.73H627.65M580.75 71.87V196.73M604.20 71.87V196.73M627.65 71.87V196.73M195.80 205.42H266.15M195.80 221.03H266.15M195.80 205.42V221.03M219.25 205.42V221.03M242.70 205.42V221.03M266.15 205.42V221.03M274.45 205.42H415.15M274.45 221.03H415.15M274.45 205.42V221.03M297.90 205.42V221.03M321.35 205.42V221.03M344.80 205.42V221.03M368.25 205.42V221.03M391.70 205.42V221.03M415.15 205.42V221.03M423.45 205.42H493.80M423.45 221.03H493.80M423.45 205.42V221.03M446.90 205.42V221.03M470.35 205.42V221.03M493.80 205.42V221.03M502.10 205.42H572.45M502.10 221.03H572.45M502.10 205.42V221.03M525.55 205.42V221.03M549.00 205.42V221.03M572.45 205.42V221.03M580.75 205.42H627.65M580.75 221.03H627.65M580.75 205.42V221.03M604.20 205.42V221.03M627.65 205.42V221.03M195.80 229.72H266.15M195.80 245.33H266.15M195.80 260.93H266.15M195.80 276.54H266.15M195.80 292.15H266.15M195.80 229.72V292.15M219.25 229.72V292.15M242.70 229.72V292.15M266.15 229.72V292.15M274.45 229.72H415.15M274.45 245.33H415.15M274.45 260.93H415.15M274.45 276.54H415.15M274.45 292.15H415.15M274.45 229.72V292.15M297.90 229.72V292.15M321.35 229.72V292.15M344.80 229.72V292.15M368.25 229.72V292.15M391.70 229.72V292.15M415.15 229.72V292.15M423.45 229.72H493.80M423.45 245.33H493.80M423.45 260.93H493.80M423.45 276.54H493.80M423.45 292.15H493.80M423.45 229.72V292.15M446.90 229.72V292.15M470.35 229.72V292.15M493.80 229.72V292.15M502.10 229.72H572.45M502.10 245.33H572.45M502.10 260.93H572.45M502.10 276.54H572.45M502.10 292.15H572.45M502.10 229.72V292.15M525.55 229.72V292.15M549.00 229.72V292.15M572.45 229.72V292.15M580.75 229.72H627.65M580.75 245.33H627.65M580.75 260.93H627.65M580.75 276.54H627.65M580.75 292.15H627.65M580.75 229.72V292.15M604.20 229.72V292.15M627.65 229.72V292.15M195.80 300.84H266.15M195.80 316.45H266.15M195.80 332.05H266.15M195.80 300.84V332.05M219.25 300.84V332.05M242.70 300.84V332.05M266.15 300.84V332.05M274.45 300.84H415.15M274.45 316.45H415.15M274.45 332.05H415.15M274.45 300.84V332.05M297.90 300.84V332.05M321.35 300.84V332.05M344.80 300.84V332.05M368.25 300.84V332.05M391.70 300.84V332.05M415.15 300.84V332.05M423.45 300.84H493.80M423.45 316.45H493.80M423.45 332.05H493.80M423.45 300.84V332.05M446.90 300.84V332.05M470.35 300.84V332.05M493.80 300.84V332.05M502.10 300.84H572.45M502.10 316.45H572.45M502.10 332.05H572.45M502.10 300.84V332.05M525.55 300.84V332.05M549.00 300.84V332.05M572.45 300.84V332.05M580.75 300.84H627.65M580.75 316.45H627.65M580.75 332.05H627.65M580.75 300.84V332.05M604.20 300.84V332.05M627.65 300.84V332.05M195.80 340.74H266.15M195.80 356.35H266.15M195.80 340.74V356.35M219.25 340.74V356.35M242.70 340.74V356.35M266.15 340.74V356.35M274.45 340.74H415.15M274.45 356.35H415.15M274.45 340.74V356.35M297.90 340.74V356.35M321.35 340.74V356.35M344.80 340.74V356.35M368.25 340.74V356.35M391.70 340.74V356.35M415.15 340.74V356.35M423.45 340.74H493.80M423.45 356.35H493.80M423.45 340.74V356.35M446.90 340.74V356.35M470.35 340.74V356.35M493.80 340.74V356.35M502.10 340.74H572.45M502.10 356.35H572.45M502.10 340.74V356.35M525.55 340.74V356.35M549.00 340.74V356.35M572.45 340.74V356.35M580.75 340.74H627.65M580.75 356.35H627.65M580.75 340.74V356.35M604.20 340.74V356.35M627.65 340.74V356.35M195.80 365.04H266.15M195.80 380.65H266.15M195.80 365.04V380.65M219.25 365.04V380.65M242.70 365.04V380.65M266.15 365.04V380.65M274.45 365.04H415.15M274.45 380.65H415.15M274.45 365.04V380.65M297.90 365.04V380.65M321.35 365.04V380.65M344.80 365.04V380.65M368.25 365.04V380.65M391.70 365.04V380.65M415.15 365.04V380.65M423.45 365.04H493.80M423.45 380.65H493.80M423.45 365.04V380.65M446.90 365.04V380.65M470.35 365.04V380.65M493.80 365.04V380.65M502.10 365.04H572.45M502.10 380.65H572.45M502.10 365.04V380.65M525.55 365.04V380.65M549.00 365.04V380.65M572.45 365.04V380.65M580.75 365.04H627.65M580.75 380.65H627.65M580.75 365.04V380.65M604.20 365.04V380.65M627.65 365.04V380.65M195.80 389.33H266.15M195.80 404.94H266.15M195.80 420.55H266.15M195.80 436.16H266.15M195.80 389.33V436.16M219.25 389.33V436.16M242.70 389.33V436.16M266.15 389.33V436.16M274.45 389.33H415.15M274.45 404.94H415.15M274.45 420.55H415.15M274.45 436.16H415.15M274.45 389.33V436.16M297.90 389.33V436.16M321.35 389.33V436.16M344.80 389.33V436.16M368.25 389.33V436.16M391.70 389.33V436.16M415.15 389.33V436.16M423.45 389.33H493.80M423.45 404.94H493.80M423.45 420.55H493.80M423.45 436.16H493.80M423.45 389.33V436.16M446.90 389.33V436.16M470.35 389.33V436.16M493.80 389.33V436.16M502.10 389.33H572.45M502.10 404.94H572.45M502.10 420.55H572.45M502.10 436.16H572.45M502.10 389.33V436.16M525.55 389.33V436.16M549.00 389.33V436.16M572.45 389.33V436.16M580.75 389.33H627.65M580.75 404.94H627.65M580.75 420.55H627.65M580.75 436.16H627.65M580.75 389.33V436.16M604.20 389.33V436.16M627.65 389.33V436.16M195.80 444.85H266.15M195.80 460.45H266.15M195.80 476.06H266.15M195.80 491.67H266.15M195.80 507.28H266.15M195.80 522.89H266.15M195.80 538.49H266.15M195.80 554.10H266.15M195.80 569.71H266.15M195.80 585.32H266.15M195.80 444.85V585.32M219.25 444.85V585.32M242.70 444.85V585.32M266.15 444.85V585.32M274.45 444.85H415.15M274.45 460.45H415.15M274.45 476.06H415.15M274.45 491.67H415.15M274.45 507.28H415.15M274.45 522.89H415.15M274.45 538.49H415.15M274.45 554.10H415.15M274.45 569.71H415.15M274.45 585.32H415.15M274.45 444.85V585.32M297.90 444.85V585.32M321.35 444.85V585.32M344.80 444.85V585.32M368.25 444.85V585.32M391.70 444.85V585.32M415.15 444.85V585.32M423.45 444.85H493.80M423.45 460.45H493.80M423.45 476.06H493.80M423.45 491.67H493.80M423.45 507.28H493.80M423.45 522.89H493.80M423.45 538.49H493.80M423.45 554.10H493.80M423.45 569.71H493.80M423.45 585.32H493.80M423.45 444.85V585.32M446.90 444.85V585.32M470.35 444.85V585.32M493.80 444.85V585.32M502.10 444.85H572.45M502.10 460.45H572.45M502.10 476.06H572.45M502.10 491.67H572.45M502.10 507.28H572.45M502.10 522.89H572.45M502.10 538.49H572.45M502.10 554.10H572.45M502.10 569.71H572.45M502.10 585.32H572.45M502.10 444.85V585.32M525.55 444.85V585.32M549.00 444.85V585.32M572.45 444.85V585.32M580.75 444.85H627.65M580.75 460.45H627.65M580.75 476.06H627.65M580.75 491.67H627.65M580.75 507.28H627.65M580.75 522.89H627.65M580.75 538.49H627.65M580.75 554.10H627.65M580.75 569.71H627.65M580.75 585.32H627.65M580.75 444.85V585.32M604.20 444.85V585.32M627.65 444.85V585.32M195.80 594.01H266.15M195.80 609.61H266.15M195.80 625.22H266.15M195.80 640.83H266.15M195.80 656.44H266.15M195.80 594.01V656.44M219.25 594.01V656.44M242.70 594.01V656.44M266.15 594.01V656.44M274.45 594.01H415.15M274.45 609.61H415.15M274.45 625.22H415.15M274.45 640.83H415.15M274.45 656.44H415.15M274.45 594.01V656.44M297.90 594.01V656.44M321.35 594.01V656.44M344.80 594.01V656.44M368.25 594.01V656.44M391.70 594.01V656.44M415.15 594.01V656.44M423.45 594.01H493.80M423.45 609.61H493.80M423.45 625.22H493.80M423.45 640.83H493.80M423.45 656.44H493.80M423.45 594.01V656.44M446.90 594.01V656.44M470.35 594.01V656.44M493.80 594.01V656.44M502.10 594.01H572.45M502.10 609.61H572.45M502.10 625.22H572.45M502.10 640.83H572.45M502.10 656.44H572.45M502.10 594.01V656.44M525.55 594.01V656.44M549.00 594.01V656.44M572.45 594.01V656.44M580.75 594.01H627.65M580.75 609.61H627.65M580.75 625.22H627.65M580.75 640.83H627.65M580.75 656.44H627.65M580.75 594.01V656.44M604.20 594.01V656.44M627.65 594.01V656.44M195.80 665.13H266.15M195.80 680.73H266.15M195.80 696.34H266.15M195.80 711.95H266.15M195.80 727.56H266.15M195.80 665.13V727.56M219.25 665.13V727.56M242.70 665.13V727.56M266.15 665.13V727.56M274.45 665.13H415.15M274.45 680.73H415.15M274.45 696.34H415.15M274.45 711.95H415.15M274.45 727.56H415.15M274.45 665.13V727.56M297.90 665.13V727.56M321.35 665.13V727.56M344.80 665.13V727.56M368.25 665.13V727.56M391.70 665.13V727.56M415.15 665.13V727.56M423.45 665.13H493.80M423.45 680.73H493.80M423.45 696.34H493.80M423.45 711.95H493.80M423.45 727.56H493.80M423.45 665.13V727.56M446.90 665.13V727.56M470.35 665.13V727.56M493.80 665.13V727.56M502.10 665.13H572.45M502.10 680.73H572.45M502.10 696.34H572.45M502.10 711.95H572.45M502.10 727.56H572.45M502.10 665.13V727.56M525.55 665.13V727.56M549.00 665.13V727.56M572.45 665.13V727.56M580.75 665.13H627.65M580.75 680.73H627.65M580.75 696.34H627.65M580.75 711.95H627.65M580.75 727.56H627.65M580.75 665.13V727.56M604.20 665.13V727.56M627.65 665.13V727.56M195.80 736.25H266.15M195.80 751.85H266.15M195.80 767.46H266.15M195.80 783.07H266.15M195.80 798.68H266.15M195.80 814.29H266.15M195.80 829.89H266.15M195.80 736.25V829.89M219.25 736.25V829.89M242.70 736.25V829.89M266.15 736.25V829.89M274.45 736.25H415.15M274.45 751.85H415.15M274.45 767.46H415.15M274.45 783.07H415.15M274.45 798.68H415.15M274.45 814.29H415.15M274.45 829.89H415.15M274.45 736.25V829.89M297.90 736.25V829.89M321.35 736.25V829.89M344.80 736.25V829.89M368.25 736.25V829.89M391.70 736.25V829.89M415.15 736.25V829.89M423.45 736.25H493.80M423.45 751.85H493.80M423.45 767.46H493.80M423.45 783.07H493.80M423.45 798.68H493.80M423.45 814.29H493.80M423.45 829.89H493.80M423.45 736.25V829.89M446.90 736.25V829.89M470.35 736.25V829.89M493.80 736.25V829.89M502.10 736.25H572.45M502.10 751.85H572.45M502.10 767.46H572.45M502.10 783.07H572.45M502.10 798.68H572.45M502.10 814.29H572.45M502.10 829.89H572.45M502.10 736.25V829.89M525.55 736.25V829.89M549.00 736.25V829.89M572.45 736.25V829.89M580.75 736.25H627.65M580.75 751.85H627.65M580.75 767.46H627.65M580.75 783.07H627.65M580.75 798.68H627.65M580.75 814.29H627.65M580.75 829.89H627.65M580.75 736.25V829.89M604.20 736.25V829.89M627.65 736.25V829.89M195.80 838.58H266.15M195.80 854.19H266.15M195.80 869.80H266.15M195.80 885.41H266.15M195.80 838.58V885.41M219.25 838.58V885.41M242.70 838.58V885.41M266.15 838.58V885.41M274.45 838.58H415.15M274.45 854.19H415.15M274.45 869.80H415.15M274.45 885.41H415.15M274.45 838.58V885.41M297.90 838.58V885.41M321.35 838.58V885.41M344.80 838.58V885.41M368.25 838.58V885.41M391.70 838.58V885.41M415.15 838.58V885.41M423.45 838.58H493.80M423.45 854.19H493.80M423.45 869.80H493.80M423.45 885.41H493.80M423.45 838.58V885.41M446.90 838.58V885.41M470.35 838.58V885.41M493.80 838.58V885.41M502.10 838.58H572.45M502.10 854.19H572.45M502.10 869.80H572.45M502.10 885.41H572.45M502.10 838.58V885.41M525.55 838.58V885.41M549.00 838.58V885.41M572.45 838.58V885.41M580.75 838.58H627.65M580.75 854.19H627.65M580.75 869.80H627.65M580.75 885.41H627.65M580.75 838.58V885.41M604.20 838.58V885.41M627.65 838.58V885.41M195.80 894.09H266.15M195.80 909.70H266.15M195.80 925.31H266.15M195.80 940.92H266.15M195.80 894.09V940.92M219.25 894.09V940.92M242.70 894.09V940.92M266.15 894.09V940.92M274.45 894.09H415.15M274.45 909.70H415.15M274.45 925.31H415.15M274.45 940.92H415.15M274.45 894.09V940.92M297.90 894.09V940.92M321.35 894.09V940.92M344.80 894.09V940.92M368.25 894.09V940.92M391.70 894.09V940.92M415.15 894.09V940.92M423.45 894.09H493.80M423.45 909.70H493.80M423.45 925.31H493.80M423.45 940.92H493.80M423.45 894.09V940.92M446.90 894.09V940.92M470.35 894.09V940.92M493.80 894.09V940.92M502.10 894.09H572.45M502.10 909.70H572.45M502.10 925.31H572.45M502.10 940.92H572.45M502.10 894.09V940.92M525.55 894.09V940.92M549.00 894.09V940.92M572.45 894.09V940.92M580.75 894.09H627.65M580.75 909.70H627.65M580.75 925.31H627.65M580.75 940.92H627.65M580.75 894.09V940.92M604.20 894.09V940.92M627.65 894.09V940.92M195.80 949.61H266.15M195.80 965.21H266.15M195.80 980.82H266.15M195.80 949.61V980.82M219.25 949.61V980.82M242.70 949.61V980.82M266.15 949.61V980.82M274.45 949.61H415.15M274.45 965.21H415.15M274.45 980.82H415.15M274.45 949.61V980.82M297.90 949.61V980.82M321.35 949.61V980.82M344.80 949.61V980.82M368.25 949.61V980.82M391.70 949.61V980.82M415.15 949.61V980.82M423.45 949.61H493.80M423.45 965.21H493.80M423.45 980.82H493.80M423.45 949.61V980.82M446.90 949.61V980.82M470.35 949.61V980.82M493.80 949.61V980.82M502.10 949.61H572.45M502.10 965.21H572.45M502.10 980.82H572.45M502.10 949.61V980.82M525.55 949.61V980.82M549.00 949.61V980.82M572.45 949.61V980.82M580.75 949.61H627.65M580.75 965.21H627.65M580.75 980.82H627.65M580.75 949.61V980.82M604.20 949.61V980.82M627.65 949.61V980.82" fill="none" stroke="#404040" stroke-width="0.85" stroke-dasharray="1 1.5" stroke-opacity="0.9"/>
<path d="M205.84 8.35H209.21M229.29 8.35H232.66M252.74 8.35H256.10M433.49 8.35H436.85M476.19 8.35H479.55M484.59 8.35H487.95M535.60 8.35H538.95M559.05 8.35H562.40M590.80 8.35H594.15M614.25 8.35H617.61M203.62 23.41H211.43M207.53 19.51V27.31M480.39 23.96H483.75M252.74 39.57H256.10M329.18 39.02H336.97M333.07 35.12V42.92M376.07 39.02H383.87M379.97 35.12V42.92M433.49 39.57H436.85M480.39 39.57H483.75M509.92 39.02H517.72M513.82 35.12V42.92M205.84 79.47H209.21M229.29 79.47H232.66M252.74 79.47H256.10M284.50 79.47H287.86M300.70 78.92H308.50M304.60 75.02V82.82M310.75 78.92H318.55M314.65 75.02V82.82M324.15 78.92H331.95M328.05 75.02V82.82M334.20 78.92H342.00M338.10 75.02V82.82M347.60 78.92H355.40M351.50 75.02V82.82M357.65 78.92H365.45M361.55 75.02V82.82M376.07 78.92H383.87M379.97 75.02V82.82M401.74 79.47H405.10M433.49 79.47H436.85M454.72 78.92H462.52M458.62 75.02V82.82M480.39 79.47H483.75M535.60 79.47H538.95M559.05 79.47H562.40M590.80 79.47H594.15M614.25 79.47H617.61M201.65 95.08H205.01M210.04 95.08H213.41M225.09 95.08H228.46M233.49 95.08H236.85M248.54 95.08H251.91M256.94 95.08H260.31M280.30 95.08H283.66M288.69 95.08H292.06M401.74 95.08H405.10M429.29 95.08H432.65M437.69 95.08H441.05M476.19 95.08H479.55M484.59 95.08H487.95M512.14 95.08H515.50M531.39 95.08H534.75M539.80 95.08H543.15M554.85 95.08H558.20M563.25 95.08H566.61M586.60 95.08H589.95M595.00 95.08H598.36M610.05 95.08H613.40M618.45 95.08H621.81M201.65 110.69H205.01M210.04 110.69H213.41M229.29 110.69H232.66M252.74 110.69H256.10M284.50 110.69H287.86M324.15 110.14H331.95M328.05 106.24V114.04M334.20 110.14H342.00M338.10 106.24V114.04M354.84 110.69H358.20M371.05 110.14H378.85M374.95 106.24V114.04M381.10 110.14H388.90M385.00 106.24V114.04M401.74 110.69H405.10M429.29 110.69H432.65M437.69 110.69H441.05M456.94 110.69H460.30M480.39 110.69H483.75M512.14 110.69H515.50M531.39 110.69H534.75M539.80 110.69H543.15M559.05 110.69H562.40M590.80 110.69H594.15M614.25 110.69H617.61M205.84 126.30H209.21M229.29 126.30H232.66M252.74 126.30H256.10M284.50 126.30H287.86M300.70 125.75H308.50M304.60 121.85V129.65M310.75 125.75H318.55M314.65 121.85V129.65M324.15 125.75H331.95M328.05 121.85V129.65M334.20 125.75H342.00M338.10 121.85V129.65M347.60 125.75H355.40M351.50 121.85V129.65M357.65 125.75H365.45M361.55 121.85V129.65M371.05 125.75H378.85M374.95 121.85V129.65M381.10 125.75H388.90M385.00 121.85V129.65M433.49 126.30H436.85M454.72 125.75H462.52M458.62 121.85V129.65M480.39 126.30H483.75M535.60 126.30H538.95M559.05 126.30H562.40M590.80 126.30H594.15M614.25 126.30H617.61M229.29 141.91H232.66M252.74 141.91H256.10M284.50 141.91H287.86M329.18 141.36H336.97M333.07 137.46V145.26M352.62 141.36H360.42M356.52 137.46V145.26M376.07 141.36H383.87M379.97 137.46V145.26M399.52 141.36H407.32M403.42 137.46V145.26M433.49 141.91H436.85M456.94 141.91H460.30M476.19 141.91H479.55M484.59 141.91H487.95M535.60 141.91H538.95M559.05 141.91H562.40M590.80 141.91H594.15M614.25 141.91H617.61M205.84 157.51H209.21M229.29 157.51H232.66M252.74 157.51H256.10M284.50 157.51H287.86M300.70 156.96H308.50M304.60 153.06V160.86M310.75 156.96H318.55M314.65 153.06V160.86M329.18 156.96H336.97M333.07 153.06V160.86M352.62 156.96H360.42M356.52 153.06V160.86M376.07 156.96H383.87M379.97 153.06V160.86M433.49 157.51H436.85M480.39 157.51H483.75M535.60 157.51H538.95M559.05 157.51H562.40M614.25 157.51H617.61M205.84 173.12H209.21M229.29 173.12H232.66M252.74 173.12H256.10M300.70 172.57H308.50M304.60 168.67V176.47M310.75 172.57H318.55M314.65 168.67V176.47M329.18 172.57H336.97M333.07 168.67V176.47M352.62 172.57H360.42M356.52 168.67V176.47M376.07 172.57H383.87M379.97 168.67V176.47M433.49 173.12H436.85M480.39 173.12H483.75M535.60 173.12H538.95M559.05 173.12H562.40M590.80 173.12H594.15M252.74 188.73H256.10M305.73 188.18H313.52M309.62 184.28V192.08M329.18 188.18H336.97M333.07 184.28V192.08M354.84 188.73H358.20M376.07 188.18H383.87M379.97 184.28V192.08M401.74 188.73H405.10M433.49 188.73H436.85M454.72 188.18H462.52M458.62 184.28V192.08M559.05 188.73H562.40M590.80 188.73H594.15M614.25 188.73H617.61M203.62 212.48H211.43M207.53 208.58V216.38M307.94 213.03H311.31M331.39 213.03H334.75M354.84 213.03H358.20M378.29 213.03H381.65M454.72 212.48H462.52M458.62 208.58V216.38M205.84 237.32H209.21M229.29 237.32H232.66M252.74 237.32H256.10M307.94 237.32H311.31M331.39 237.32H334.75M354.84 237.32H358.20M378.29 237.32H381.65M431.27 236.77H439.07M435.17 232.87V240.67M454.72 236.77H462.52M458.62 232.87V240.67M473.15 236.77H480.95M477.05 232.87V240.67M483.20 236.77H491.00M487.10 232.87V240.67M512.14 237.32H515.50M535.60 237.32H538.95M559.05 237.32H562.40M252.74 252.93H256.10M284.50 252.93H287.86M307.94 252.93H311.31M331.39 252.93H334.75M354.84 252.93H358.20M378.29 252.93H381.65M401.74 252.93H405.10M535.60 252.93H538.95M559.05 252.93H562.40M205.84 268.54H209.21M431.27 267.99H439.07M435.17 264.09V271.89M454.72 267.99H462.52M458.62 264.09V271.89M478.17 267.99H485.97M482.07 264.09V271.89M205.84 284.15H209.21M329.18 283.60H336.97M333.07 279.70V287.50M376.07 283.60H383.87M379.97 279.70V287.50M478.17 283.60H485.97M482.07 279.70V287.50M329.18 307.89H336.97M333.07 303.99V311.79M480.39 308.44H483.75M252.74 324.05H256.10M282.28 323.50H290.07M286.18 319.60V327.40M305.73 323.50H313.52M309.62 319.60V327.40M329.18 323.50H336.97M333.07 319.60V327.40M433.49 324.05H436.85M480.39 324.05H483.75M509.92 323.50H517.72M513.82 319.60V327.40M205.84 348.35H209.21M329.18 347.80H336.97M333.07 343.90V351.70M454.72 347.80H462.52M458.62 343.90V351.70M205.84 396.94H209.21M252.74 396.94H256.10M329.18 396.39H336.97M333.07 392.49V400.29M354.84 396.94H358.20M378.29 396.94H381.65M401.74 396.94H405.10M431.27 396.39H439.07M435.17 392.49V400.29M454.72 396.39H462.52M458.62 392.49V400.29M480.39 396.94H483.75M509.92 396.39H517.72M513.82 392.49V400.29M535.60 396.94H538.95M559.05 396.94H562.40M329.18 412.00H336.97M333.07 408.10V415.90M509.92 412.00H517.72M513.82 408.10V415.90M588.58 427.60H596.38M592.48 423.70V431.50M205.84 452.45H209.21M229.29 452.45H232.66M252.74 452.45H256.10M284.50 452.45H287.86M305.73 451.90H313.52M309.62 448.00V455.80M324.15 451.90H331.95M328.05 448.00V455.80M334.20 451.90H342.00M338.10 448.00V455.80M352.62 451.90H360.42M356.52 448.00V455.80M371.05 451.90H378.85M374.95 448.00V455.80M381.10 451.90H388.90M385.00 448.00V455.80M401.74 452.45H405.10M431.27 451.90H439.07M435.17 448.00V455.80M454.72 451.90H462.52M458.62 448.00V455.80M480.39 452.45H483.75M509.92 451.90H517.72M513.82 448.00V455.80M535.60 452.45H538.95M559.05 452.45H562.40M590.80 452.45H594.15M614.25 452.45H617.61M205.84 468.06H209.21M229.29 468.06H232.66M284.50 468.06H287.86M307.94 468.06H311.31M329.18 467.51H336.97M333.07 463.61V471.41M354.84 468.06H358.20M401.74 468.06H405.10M431.27 467.51H439.07M435.17 463.61V471.41M454.72 467.51H462.52M458.62 463.61V471.41M473.15 467.51H480.95M477.05 463.61V471.41M483.20 467.51H491.00M487.10 463.61V471.41M512.14 468.06H515.50M535.60 468.06H538.95M559.05 468.06H562.40M590.80 468.06H594.15M614.25 468.06H617.61M229.29 483.67H232.66M303.75 483.67H307.11M312.14 483.67H315.50M331.39 483.67H334.75M354.84 483.67H358.20M374.09 483.67H377.45M382.49 483.67H385.85M401.74 483.67H405.10M512.14 483.67H515.50M535.60 483.67H538.95M614.25 483.67H617.61M229.29 499.27H232.66M252.74 499.27H256.10M284.50 499.27H287.86M303.75 499.27H307.11M312.14 499.27H315.50M331.39 499.27H334.75M354.84 499.27H358.20M374.09 499.27H377.45M382.49 499.27H385.85M401.74 499.27H405.10M512.14 499.27H515.50M535.60 499.27H538.95M559.05 499.27H562.40M590.80 499.27H594.15M614.25 499.27H617.61M205.84 514.88H209.21M229.29 514.88H232.66M284.50 514.88H287.86M307.94 514.88H311.31M354.84 514.88H358.20M401.74 514.88H405.10M431.27 514.33H439.07M435.17 510.43V518.23M449.70 514.33H457.50M453.60 510.43V518.23M459.75 514.33H467.55M463.65 510.43V518.23M473.15 514.33H480.95M477.05 510.43V518.23M483.20 514.33H491.00M487.10 510.43V518.23M512.14 514.88H515.50M535.60 514.88H538.95M559.05 514.88H562.40M590.80 514.88H594.15M614.25 514.88H617.61M201.65 530.49H205.01M210.04 530.49H213.41M374.09 530.49H377.45M382.49 530.49H385.85M478.17 545.55H485.97M482.07 541.65V549.45M307.94 561.71H311.31M431.27 561.16H439.07M435.17 557.26V565.06M454.72 561.16H462.52M458.62 557.26V565.06M478.17 561.16H485.97M482.07 557.26V565.06M307.94 577.31H311.31M331.39 577.31H334.75M378.29 577.31H381.65M431.27 576.76H439.07M435.17 572.86V580.66M454.72 576.76H462.52M458.62 572.86V580.66M478.17 576.76H485.97M482.07 572.86V580.66M512.14 577.31H515.50M201.65 601.61H205.01M210.04 601.61H213.41M225.09 601.61H228.46M233.49 601.61H236.85M248.54 601.61H251.91M256.94 601.61H260.31M429.29 601.61H432.65M437.69 601.61H441.05M476.19 601.61H479.55M484.59 601.61H487.95M512.14 601.61H515.50M535.60 601.61H538.95M554.85 601.61H558.20M563.25 601.61H566.61M586.60 601.61H589.95M595.00 601.61H598.36M614.25 601.61H617.61M205.84 632.83H209.21M252.74 632.83H256.10M305.73 632.28H313.52M309.62 628.38V636.18M378.29 632.83H381.65M454.72 632.28H462.52M458.62 628.38V636.18M480.39 632.83H483.75M509.92 632.28H517.72M513.82 628.38V636.18M559.05 632.83H562.40M229.29 648.43H232.66M252.74 648.43H256.10M305.73 647.88H313.52M309.62 643.98V651.78M329.18 647.88H336.97M333.07 643.98V651.78M352.62 647.88H360.42M356.52 643.98V651.78M433.49 648.43H436.85M454.72 647.88H462.52M458.62 643.98V651.78M480.39 648.43H483.75M535.60 648.43H538.95M559.05 648.43H562.40M590.80 648.43H594.15M205.84 672.73H209.21M229.29 672.73H232.66M252.74 672.73H256.10M305.73 672.18H313.52M309.62 668.28V676.08M329.18 672.18H336.97M333.07 668.28V676.08M354.84 672.73H358.20M401.74 672.73H405.10M433.49 672.73H436.85M454.72 672.18H462.52M458.62 668.28V676.08M480.39 672.73H483.75M509.92 672.18H517.72M513.82 668.28V676.08M556.83 672.18H564.62M560.73 668.28V676.08M607.00 672.18H614.80M610.90 668.28V676.08M617.05 672.18H624.85M620.95 668.28V676.08M252.74 688.34H256.10M282.28 687.79H290.07M286.18 683.89V691.69M305.73 687.79H313.52M309.62 683.89V691.69M329.18 687.79H336.97M333.07 683.89V691.69M433.49 688.34H436.85M454.72 687.79H462.52M458.62 683.89V691.69M476.19 688.34H479.55M484.59 688.34H487.95M533.38 687.79H541.17M537.27 683.89V691.69M556.83 687.79H564.62M560.73 683.89V691.69M590.80 688.34H594.15M614.25 688.34H617.61M205.84 703.95H209.21M229.29 703.95H232.66M252.74 703.95H256.10M305.73 703.40H313.52M309.62 699.50V707.30M329.18 703.40H336.97M333.07 699.50V707.30M401.74 703.95H405.10M454.72 703.40H462.52M458.62 699.50V707.30M509.92 703.40H517.72M513.82 699.50V707.30M535.60 703.95H538.95M205.84 719.55H209.21M252.74 719.55H256.10M282.28 719.00H290.07M286.18 715.10V722.90M300.70 719.00H308.50M304.60 715.10V722.90M310.75 719.00H318.55M314.65 715.10V722.90M378.29 719.55H381.65M399.52 719.00H407.32M403.42 715.10V722.90M433.49 719.55H436.85M476.19 719.55H479.55M484.59 719.55H487.95M533.38 719.00H541.17M537.27 715.10V722.90M556.83 719.00H564.62M560.73 715.10V722.90M205.84 743.85H209.21M229.29 743.85H232.66M252.74 743.85H256.10M284.50 743.85H287.86M300.70 743.30H308.50M304.60 739.40V747.20M310.75 743.30H318.55M314.65 739.40V747.20M324.15 743.30H331.95M328.05 739.40V747.20M334.20 743.30H342.00M338.10 739.40V747.20M347.60 743.30H355.40M351.50 739.40V747.20M357.65 743.30H365.45M361.55 739.40V747.20M376.07 743.30H383.87M379.97 739.40V747.20M433.49 743.85H436.85M454.72 743.30H462.52M458.62 739.40V747.20M480.39 743.85H483.75M509.92 743.30H517.72M513.82 739.40V747.20M535.60 743.85H538.95M559.05 743.85H562.40M590.80 743.85H594.15M614.25 743.85H617.61M205.84 759.46H209.21M229.29 759.46H232.66M252.74 759.46H256.10M284.50 759.46H287.86M307.94 759.46H311.31M354.84 759.46H358.20M401.74 759.46H405.10M433.49 759.46H436.85M478.17 758.91H485.97M482.07 755.01V762.81M512.14 759.46H515.50M535.60 759.46H538.95M559.05 759.46H562.40M590.80 759.46H594.15M614.25 759.46H617.61M229.29 775.07H232.66M307.94 775.07H311.31M329.18 774.52H336.97M333.07 770.62V778.42M354.84 775.07H358.20M401.74 775.07H405.10M449.70 774.52H457.50M453.60 770.62V778.42M459.75 774.52H467.55M463.65 770.62V778.42M509.92 774.52H517.72M513.82 770.62V778.42M590.80 775.07H594.15M205.84 790.67H209.21M229.29 790.67H232.66M252.74 790.67H256.10M284.50 790.67H287.86M329.18 790.12H336.97M333.07 786.22V794.02M449.70 790.12H457.50M453.60 786.22V794.02M459.75 790.12H467.55M463.65 786.22V794.02M535.60 790.67H538.95M590.80 790.67H594.15M614.25 790.67H617.61M205.84 806.28H209.21M229.29 806.28H232.66M252.74 806.28H256.10M324.15 805.73H331.95M328.05 801.83V809.63M334.20 805.73H342.00M338.10 801.83V809.63M371.05 805.73H378.85M374.95 801.83V809.63M381.10 805.73H388.90M385.00 801.83V809.63M433.49 806.28H436.85M454.72 805.73H462.52M458.62 801.83V809.63M480.39 806.28H483.75M535.60 806.28H538.95M559.05 806.28H562.40M590.80 806.28H594.15M614.25 806.28H617.61M205.84 821.89H209.21M229.29 821.89H232.66M252.74 821.89H256.10M305.73 821.34H313.52M309.62 817.44V825.24M329.18 821.34H336.97M333.07 817.44V825.24M449.70 821.34H457.50M453.60 817.44V825.24M459.75 821.34H467.55M463.65 817.44V825.24M535.60 821.89H538.95M559.05 821.89H562.40M590.80 821.89H594.15M205.84 846.19H209.21M305.73 845.64H313.52M309.62 841.74V849.54M329.18 845.64H336.97M333.07 841.74V849.54M354.84 846.19H358.20M401.74 846.19H405.10M433.49 846.19H436.85M480.39 846.19H483.75M509.92 845.64H517.72M513.82 841.74V849.54M535.60 846.19H538.95M559.05 846.19H562.40M588.58 845.64H596.38M592.48 841.74V849.54M612.03 845.64H619.83M615.93 841.74V849.54M201.65 861.79H205.01M210.04 861.79H213.41M229.29 861.79H232.66M284.50 861.79H287.86M300.70 861.24H308.50M304.60 857.34V865.14M310.75 861.24H318.55M314.65 857.34V865.14M324.15 861.24H331.95M328.05 857.34V865.14M334.20 861.24H342.00M338.10 857.34V865.14M354.84 861.79H358.20M376.07 861.24H383.87M379.97 857.34V865.14M401.74 861.79H405.10M433.49 861.79H436.85M478.17 861.24H485.97M482.07 857.34V865.14M504.90 861.24H512.70M508.80 857.34V865.14M514.95 861.24H522.75M518.85 857.34V865.14M531.39 861.79H534.75M539.80 861.79H543.15M559.05 861.79H562.40M583.55 861.24H591.35M587.45 857.34V865.14M593.60 861.24H601.40M597.50 857.34V865.14M612.03 861.24H619.83M615.93 857.34V865.14M205.84 877.40H209.21M229.29 877.40H232.66M284.50 877.40H287.86M307.94 877.40H311.31M331.39 877.40H334.75M350.64 877.40H354.00M359.04 877.40H362.40M374.09 877.40H377.45M382.49 877.40H385.85M397.54 877.40H400.90M405.94 877.40H409.30M433.49 877.40H436.85M456.94 877.40H460.30M480.39 877.40H483.75M531.39 877.40H534.75M539.80 877.40H543.15M554.85 877.40H558.20M563.25 877.40H566.61M476.19 901.70H479.55M484.59 901.70H487.95M201.65 917.31H205.01M210.04 917.31H213.41M374.09 917.31H377.45M382.49 917.31H385.85M610.05 917.31H613.40M618.45 917.31H621.81M205.84 932.91H209.21M252.74 932.91H256.10M282.28 932.36H290.07M286.18 928.46V936.26M305.73 932.36H313.52M309.62 928.46V936.26M352.62 932.36H360.42M356.52 928.46V936.26M378.29 932.91H381.65M399.52 932.36H407.32M403.42 928.46V936.26M433.49 932.91H436.85M454.72 932.36H462.52M458.62 928.46V936.26M476.19 932.91H479.55M484.59 932.91H487.95M559.05 932.91H562.40M590.80 932.91H594.15M205.84 957.21H209.21M229.29 957.21H232.66M248.54 957.21H251.91M256.94 957.21H260.31M284.50 957.21H287.86M324.15 956.66H331.95M328.05 952.76V960.56M334.20 956.66H342.00M338.10 952.76V960.56M347.60 956.66H355.40M351.50 952.76V960.56M357.65 956.66H365.45M361.55 952.76V960.56M394.50 956.66H402.30M398.40 952.76V960.56M404.55 956.66H412.35M408.45 952.76V960.56M429.29 957.21H432.65M437.69 957.21H441.05M476.19 957.21H479.55M484.59 957.21H487.95M509.92 956.66H517.72M513.82 952.76V960.56M535.60 957.21H538.95M559.05 957.21H562.40M590.80 957.21H594.15M614.25 957.21H617.61M509.92 972.27H517.72M513.82 968.37V976.17" fill="none" stroke="#262626" stroke-width="1.0"/>
<path d="M282.28 7.80H290.07M286.18 3.90V11.70M305.73 7.80H313.52M309.62 3.90V11.70M324.15 7.80H331.95M328.05 3.90V11.70M334.20 7.80H342.00M338.10 3.90V11.70M371.05 7.80H378.85M374.95 3.90V11.70M381.10 7.80H388.90M385.00 3.90V11.70M509.92 7.80H517.72M513.82 3.90V11.70M300.70 94.53H308.50M304.60 90.63V98.43M310.75 94.53H318.55M314.65 90.63V98.43M324.15 94.53H331.95M328.05 90.63V98.43M334.20 94.53H342.00M338.10 90.63V98.43M347.60 94.53H355.40M351.50 90.63V98.43M357.65 94.53H365.45M361.55 90.63V98.43M371.05 94.53H378.85M374.95 90.63V98.43M381.10 94.53H388.90M385.00 90.63V98.43M300.70 110.14H308.50M304.60 106.24V114.04M310.75 110.14H318.55M314.65 106.24V114.04M300.70 141.36H308.50M304.60 137.46V145.26M310.75 141.36H318.55M314.65 137.46V145.26M607.00 252.38H614.80M610.90 248.48V256.28M617.05 252.38H624.85M620.95 248.48V256.28M205.84 483.67H209.21M252.74 483.67H256.10M284.50 483.67H287.86M426.25 483.12H434.05M430.15 479.22V487.02M436.30 483.12H444.10M440.20 479.22V487.02M449.70 483.12H457.50M453.60 479.22V487.02M459.75 483.12H467.55M463.65 479.22V487.02M473.15 483.12H480.95M477.05 479.22V487.02M483.20 483.12H491.00M487.10 479.22V487.02M559.05 483.67H562.40M590.80 483.67H594.15M426.25 498.72H434.05M430.15 494.82V502.62M436.30 498.72H444.10M440.20 494.82V502.62M449.70 498.72H457.50M453.60 494.82V502.62M459.75 498.72H467.55M463.65 494.82V502.62M473.15 498.72H480.95M477.05 494.82V502.62M483.20 498.72H491.00M487.10 494.82V502.62M229.29 530.49H232.66M252.74 530.49H256.10M284.50 530.49H287.86M307.94 530.49H311.31M331.39 530.49H334.75M352.62 529.94H360.42M356.52 526.04V533.84M401.74 530.49H405.10M426.25 529.94H434.05M430.15 526.04V533.84M436.30 529.94H444.10M440.20 526.04V533.84M449.70 529.94H457.50M453.60 526.04V533.84M459.75 529.94H467.55M463.65 526.04V533.84M473.15 529.94H480.95M477.05 526.04V533.84M483.20 529.94H491.00M487.10 526.04V533.84M512.14 530.49H515.50M590.80 530.49H594.15M610.05 530.49H613.40M618.45 530.49H621.81M282.28 601.06H290.07M286.18 597.16V604.96M300.70 601.06H308.50M304.60 597.16V604.96M310.75 601.06H318.55M314.65 597.16V604.96M329.18 601.06H336.97M333.07 597.16V604.96M347.60 601.06H355.40M351.50 597.16V604.96M357.65 601.06H365.45M361.55 597.16V604.96M371.05 601.06H378.85M374.95 597.16V604.96M381.10 601.06H388.90M385.00 597.16V604.96M394.50 601.06H402.30M398.40 597.16V604.96M404.55 601.06H412.35M408.45 597.16V604.96M449.70 601.06H457.50M453.60 597.16V604.96M459.75 601.06H467.55M463.65 597.16V604.96M449.70 758.91H457.50M453.60 755.01V762.81M459.75 758.91H467.55M463.65 755.01V762.81M245.50 876.85H253.30M249.40 872.95V880.75M255.55 876.85H263.35M259.45 872.95V880.75M509.92 876.85H517.72M513.82 872.95V880.75M583.55 876.85H591.35M587.45 872.95V880.75M593.60 876.85H601.40M597.50 872.95V880.75M607.00 876.85H614.80M610.90 872.95V880.75M617.05 876.85H624.85M620.95 872.95V880.75M201.65 901.70H205.01M210.04 901.70H213.41M225.09 901.70H228.46M233.49 901.70H236.85M248.54 901.70H251.91M256.94 901.70H260.31M300.70 901.15H308.50M304.60 897.25V905.05M310.75 901.15H318.55M314.65 897.25V905.05M329.18 901.15H336.97M333.07 897.25V905.05M347.60 901.15H355.40M351.50 897.25V905.05M357.65 901.15H365.45M361.55 897.25V905.05M394.50 901.15H402.30M398.40 897.25V905.05M404.55 901.15H412.35M408.45 897.25V905.05M429.29 901.70H432.65M437.69 901.70H441.05M531.39 901.70H534.75M539.80 901.70H543.15M554.85 901.70H558.20M563.25 901.70H566.61M590.80 901.70H594.15M614.25 901.70H617.61M252.74 917.31H256.10M284.50 917.31H287.86M307.94 917.31H311.31M327.19 917.31H330.56M335.59 917.31H338.95M352.62 916.76H360.42M356.52 912.86V920.66M401.74 917.31H405.10M426.25 916.76H434.05M430.15 912.86V920.66M436.30 916.76H444.10M440.20 912.86V920.66M449.70 916.76H457.50M453.60 912.86V920.66M459.75 916.76H467.55M463.65 912.86V920.66M473.15 916.76H480.95M477.05 912.86V920.66M483.20 916.76H491.00M487.10 912.86V920.66M533.38 916.76H541.17M537.27 912.86V920.66M590.80 917.31H594.15M300.70 956.66H308.50M304.60 952.76V960.56M310.75 956.66H318.55M314.65 952.76V960.56" fill="none" stroke="#ffffff" stroke-width="1.0"/>
<defs><linearGradient id="cb" x1="0" y1="0" x2="0" y2="1"><stop offset="0.000" stop-color="#a8363a"/><stop offset="0.050" stop-color="#a9393d"/><stop offset="0.100" stop-color="#ae4347"/><stop offset="0.150" stop-color="#b24e51"/><stop offset="0.200" stop-color="#b6585b"/><stop offset="0.250" stop-color="#ba6264"/><stop offset="0.300" stop-color="#be6c6e"/><stop offset="0.350" stop-color="#c27678"/><stop offset="0.400" stop-color="#c78082"/><stop offset="0.450" stop-color="#cb8a8c"/><stop offset="0.500" stop-color="#cf9495"/><stop offset="0.550" stop-color="#d39e9f"/><stop offset="0.600" stop-color="#d7a8a9"/><stop offset="0.650" stop-color="#dcb2b3"/><stop offset="0.700" stop-color="#e0bcbd"/><stop offset="0.750" stop-color="#e4c6c7"/><stop offset="0.800" stop-color="#e8d0d0"/><stop offset="0.850" stop-color="#ecdada"/><stop offset="0.900" stop-color="#f0e5e4"/><stop offset="0.950" stop-color="#f5efee"/><stop offset="1.000" stop-color="#f6f2f1"/></linearGradient></defs>
<rect x="640.84" y="406.08" width="7.23" height="209.77" fill="url(#cb)"/>
<path d="M190.94 8.50H195.80M190.94 24.50H195.80M190.94 39.50H195.80M190.94 55.50H195.80M190.94 79.50H195.80M190.94 95.50H195.80M190.94 110.50H195.80M190.94 126.50H195.80M190.94 142.50H195.80M190.94 157.50H195.80M190.94 173.50H195.80M190.94 188.50H195.80M190.94 213.50H195.80M190.94 237.50H195.80M190.94 253.50H195.80M190.94 268.50H195.80M190.94 284.50H195.80M190.94 308.50H195.80M190.94 324.50H195.80M190.94 348.50H195.80M190.94 372.50H195.80M190.94 397.50H195.80M190.94 412.50H195.80M190.94 428.50H195.80M190.94 452.50H195.80M190.94 468.50H195.80M190.94 483.50H195.80M190.94 499.50H195.80M190.94 515.50H195.80M190.94 530.50H195.80M190.94 546.50H195.80M190.94 561.50H195.80M190.94 577.50H195.80M190.94 601.50H195.80M190.94 617.50H195.80M190.94 633.50H195.80M190.94 648.50H195.80M190.94 672.50H195.80M190.94 688.50H195.80M190.94 704.50H195.80M190.94 719.50H195.80M190.94 744.50H195.80M190.94 759.50H195.80M190.94 775.50H195.80M190.94 790.50H195.80M190.94 806.50H195.80M190.94 822.50H195.80M190.94 846.50H195.80M190.94 861.50H195.80M190.94 877.50H195.80M190.94 901.50H195.80M190.94 917.50H195.80M190.94 933.50H195.80M190.94 957.50H195.80M190.94 973.50H195.80M207.50 980.82V985.68M230.50 980.82V985.68M254.50 980.82V985.68M286.50 980.82V985.68M309.50 980.82V985.68M333.50 980.82V985.68M356.50 980.82V985.68M379.50 980.82V985.68M403.50 980.82V985.68M435.50 980.82V985.68M458.50 980.82V985.68M482.50 980.82V985.68M513.50 980.82V985.68M537.50 980.82V985.68M560.50 980.82V985.68M592.50 980.82V985.68M615.50 980.82V985.68M648.07 615.50H652.93M648.07 587.50H652.93M648.07 559.50H652.93M648.07 531.50H652.93M648.07 503.50H652.93M648.07 476.50H652.93M648.07 448.50H652.93M648.07 420.50H652.93" stroke="#000" stroke-width="1.1"/>
<g font-family="Liberation Sans, sans-serif" font-size="13.4" fill="#111111" stroke="#111111" stroke-width="0.05"><text x="70.23" y="11.75" textLength="116.70" lengthAdjust="spacingAndGlyphs">Solid organ cancer</text><text x="121.84" y="27.36" textLength="63.70" lengthAdjust="spacingAndGlyphs">Melanoma</text><text x="43.02" y="42.97" textLength="143.94" lengthAdjust="spacingAndGlyphs">Haematological cancer</text><text x="31.80" y="58.58" textLength="154.82" lengthAdjust="spacingAndGlyphs">Benign cerebral tumours</text><text x="23.05" y="82.87" textLength="163.67" lengthAdjust="spacingAndGlyphs">Peripheral arterial disease</text><text x="42.74" y="98.48" textLength="144.00" lengthAdjust="spacingAndGlyphs">Ischemic heart disease</text><text x="106.95" y="114.09" textLength="79.72" lengthAdjust="spacingAndGlyphs">Heart Failure</text><text x="147.06" y="129.70" textLength="39.61" lengthAdjust="spacingAndGlyphs">Stroke</text><text x="124.68" y="145.31" textLength="60.93" lengthAdjust="spacingAndGlyphs">Arrythmia</text><text x="123.51" y="160.91" textLength="62.99" lengthAdjust="spacingAndGlyphs">Aneurysm</text><text x="57.34" y="176.52" textLength="129.56" lengthAdjust="spacingAndGlyphs">Heart Valve Disorder</text><text x="17.71" y="192.13" textLength="169.05" lengthAdjust="spacingAndGlyphs">Venous thrombotic disease</text><text x="63.12" y="216.43" textLength="123.52" lengthAdjust="spacingAndGlyphs">Congenital abnorm.</text><text x="56.66" y="240.72" textLength="130.05" lengthAdjust="spacingAndGlyphs">Chronic liver disease</text><text x="10.03" y="256.33" textLength="176.67" lengthAdjust="spacingAndGlyphs">Inflammatory bowel disease</text><text x="17.98" y="271.94" textLength="168.74" lengthAdjust="spacingAndGlyphs">Chronic pancreatic disease</text><text x="113.79" y="287.55" textLength="73.15" lengthAdjust="spacingAndGlyphs">Peptic ulcer</text><text x="75.33" y="311.84" textLength="111.41" lengthAdjust="spacingAndGlyphs">Meniere's disease</text><text x="61.28" y="327.45" textLength="125.23" lengthAdjust="spacingAndGlyphs">Hearing impairment</text><text x="73.15" y="351.75" textLength="113.40" lengthAdjust="spacingAndGlyphs">Vision impairment</text><text x="131.69" y="376.04" textLength="53.90" lengthAdjust="spacingAndGlyphs">Anaemia</text><text x="131.27" y="400.34" textLength="55.36" lengthAdjust="spacingAndGlyphs">HIV/AIDS</text><text x="109.80" y="415.95" textLength="76.84" lengthAdjust="spacingAndGlyphs">Tuberculosis</text><text x="50.76" y="431.55" textLength="135.96" lengthAdjust="spacingAndGlyphs">Chronic Lyme disease</text><text x="125.69" y="455.85" textLength="59.87" lengthAdjust="spacingAndGlyphs">Dementia</text><text x="99.02" y="471.46" textLength="86.59" lengthAdjust="spacingAndGlyphs">Schizophrenia</text><text x="116.98" y="487.07" textLength="69.60" lengthAdjust="spacingAndGlyphs">Depression</text><text x="139.49" y="502.67" textLength="46.80" lengthAdjust="spacingAndGlyphs">Anxiety</text><text x="87.69" y="518.28" textLength="99.27" lengthAdjust="spacingAndGlyphs">Bipolar disorder</text><text x="42.51" y="533.89" textLength="144.23" lengthAdjust="spacingAndGlyphs">Drug or alcohol misuse</text><text x="91.80" y="549.50" textLength="95.11" lengthAdjust="spacingAndGlyphs">Eating disorder</text><text x="143.29" y="565.11" textLength="43.24" lengthAdjust="spacingAndGlyphs">Autism</text><text x="154.25" y="580.71" textLength="32.29" lengthAdjust="spacingAndGlyphs">PTSD</text><text x="131.34" y="605.01" textLength="55.33" lengthAdjust="spacingAndGlyphs">Diabetes</text><text x="85.62" y="620.62" textLength="101.11" lengthAdjust="spacingAndGlyphs">Addison disease</text><text x="100.01" y="636.23" textLength="86.60" lengthAdjust="spacingAndGlyphs">Cystic fibrosis</text><text x="84.25" y="651.83" textLength="102.70" lengthAdjust="spacingAndGlyphs">Thyroid disorder</text><text x="24.01" y="676.13" textLength="162.75" lengthAdjust="spacingAndGlyphs">Connective tissue disease</text><text x="101.03" y="691.74" textLength="85.61" lengthAdjust="spacingAndGlyphs">Osteoarthritis</text><text x="105.58" y="707.35" textLength="81.06" lengthAdjust="spacingAndGlyphs">Osteoporosis</text><text x="156.54" y="722.95" textLength="29.99" lengthAdjust="spacingAndGlyphs">Gout</text><text x="19.50" y="747.25" textLength="167.17" lengthAdjust="spacingAndGlyphs">Transient ischaemic attack</text><text x="134.54" y="762.86" textLength="51.78" lengthAdjust="spacingAndGlyphs">Epilepsy</text><text x="79.64" y="778.47" textLength="106.97" lengthAdjust="spacingAndGlyphs">Multiple sclerosis</text><text x="132.07" y="794.07" textLength="54.57" lengthAdjust="spacingAndGlyphs">Paralysis</text><text x="64.96" y="809.68" textLength="121.75" lengthAdjust="spacingAndGlyphs">Parkinson's disease</text><text x="47.77" y="825.29" textLength="138.57" lengthAdjust="spacingAndGlyphs">Peripheral neuropathy</text><text x="95.93" y="849.59" textLength="90.64" lengthAdjust="spacingAndGlyphs">Bronchiectasis</text><text x="151.04" y="865.19" textLength="35.53" lengthAdjust="spacingAndGlyphs">COPD</text><text x="139.10" y="880.80" textLength="46.44" lengthAdjust="spacingAndGlyphs">Asthma</text><text x="103.19" y="905.10" textLength="83.40" lengthAdjust="spacingAndGlyphs">Hypertension</text><text x="132.56" y="920.71" textLength="53.91" lengthAdjust="spacingAndGlyphs">Smoking</text><text x="139.01" y="936.31" textLength="47.32" lengthAdjust="spacingAndGlyphs">Obesity</text><text x="160.21" y="960.61" textLength="26.33" lengthAdjust="spacingAndGlyphs">CKD</text><text x="-1.12" y="977.82" textLength="187.73" lengthAdjust="spacingAndGlyphs">Chronic urinary tract infection</text><text transform="translate(211.72 1014.16) rotate(-90)" textLength="22.71" lengthAdjust="spacingAndGlyphs">LB1</text><text transform="translate(235.17 1014.16) rotate(-90)" textLength="22.65" lengthAdjust="spacingAndGlyphs">LB2</text><text transform="translate(258.62 1014.17) rotate(-90)" textLength="22.78" lengthAdjust="spacingAndGlyphs">LB3</text><text transform="translate(290.38 1018.32) rotate(-90)" textLength="26.85" lengthAdjust="spacingAndGlyphs">CM1</text><text transform="translate(313.82 1018.31) rotate(-90)" textLength="26.79" lengthAdjust="spacingAndGlyphs">CM2</text><text transform="translate(337.27 1018.32) rotate(-90)" textLength="26.92" lengthAdjust="spacingAndGlyphs">CM3</text><text transform="translate(360.72 1018.32) rotate(-90)" textLength="27.11" lengthAdjust="spacingAndGlyphs">CM4</text><text transform="translate(384.17 1018.32) rotate(-90)" textLength="26.85" lengthAdjust="spacingAndGlyphs">CM5</text><text transform="translate(407.62 1018.32) rotate(-90)" textLength="27.18" lengthAdjust="spacingAndGlyphs">CM6</text><text transform="translate(439.37 1018.83) rotate(-90)" textLength="27.39" lengthAdjust="spacingAndGlyphs">MH1</text><text transform="translate(462.82 1018.82) rotate(-90)" textLength="27.33" lengthAdjust="spacingAndGlyphs">MH2</text><text transform="translate(486.27 1018.83) rotate(-90)" textLength="27.45" lengthAdjust="spacingAndGlyphs">MH3</text><text transform="translate(518.02 1021.67) rotate(-90)" textLength="30.23" lengthAdjust="spacingAndGlyphs">MIX1</text><text transform="translate(541.48 1021.67) rotate(-90)" textLength="30.17" lengthAdjust="spacingAndGlyphs">MIX2</text><text transform="translate(564.93 1021.68) rotate(-90)" textLength="30.30" lengthAdjust="spacingAndGlyphs">MIX3</text><text transform="translate(596.68 1023.09) rotate(-90)" textLength="31.60" lengthAdjust="spacingAndGlyphs">RES1</text><text transform="translate(620.13 1023.09) rotate(-90)" textLength="31.54" lengthAdjust="spacingAndGlyphs">RES2</text><text x="657.15" y="620.35" textLength="27.26" lengthAdjust="spacingAndGlyphs">0.00</text><text x="657.16" y="592.38" textLength="27.02" lengthAdjust="spacingAndGlyphs">0.02</text><text x="657.15" y="564.41" textLength="27.31" lengthAdjust="spacingAndGlyphs">0.04</text><text x="657.15" y="536.44" textLength="27.39" lengthAdjust="spacingAndGlyphs">0.06</text><text x="657.15" y="508.47" textLength="27.33" lengthAdjust="spacingAndGlyphs">0.08</text><text x="657.15" y="480.50" textLength="27.26" lengthAdjust="spacingAndGlyphs">0.10</text><text x="657.16" y="452.53" textLength="27.02" lengthAdjust="spacingAndGlyphs">0.12</text><text x="657.15" y="424.56" textLength="27.31" lengthAdjust="spacingAndGlyphs">0.14</text></g>
</svg>
</body></html>
